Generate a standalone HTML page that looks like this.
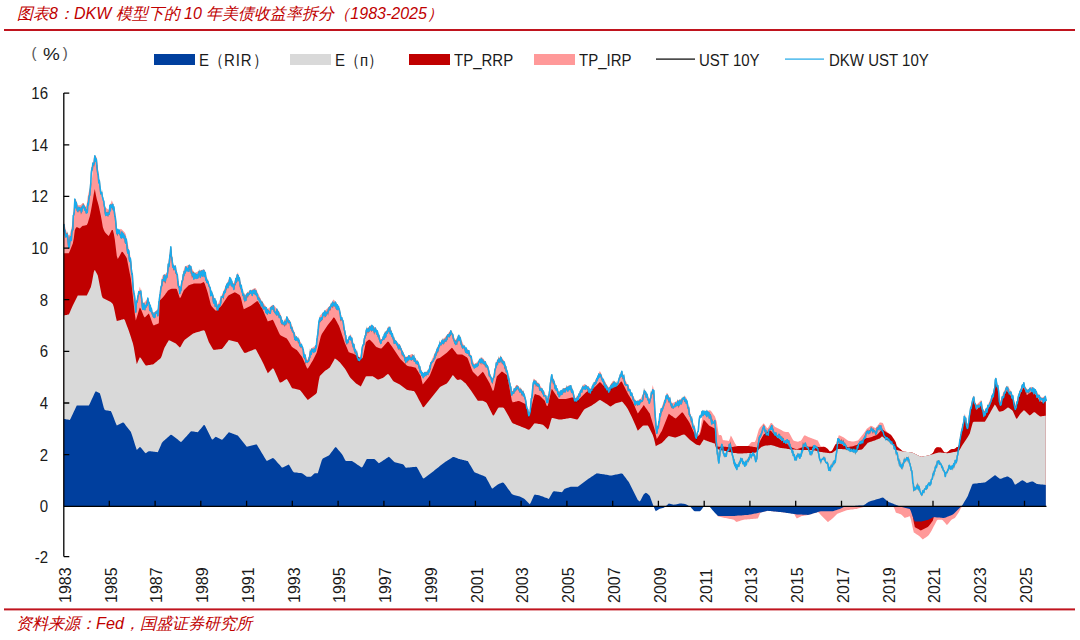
<!DOCTYPE html>
<html><head><meta charset="utf-8">
<style>
html,body{margin:0;padding:0;background:#fff;}
body{width:1080px;height:640px;position:relative;overflow:hidden;font-family:"Liberation Sans",sans-serif;color:#1a1a1a;}
.t{position:absolute;white-space:nowrap;}
.title{left:17px;top:3.5px;font-size:16px;font-style:italic;color:#C00000;}
.foot{left:16px;top:612.5px;font-size:16.2px;font-style:italic;color:#C00000;}
.lg{font-size:15px;top:49.5px;transform:scaleY(1.15);transform-origin:0 0;}
.yl{font-size:15px;width:30px;text-align:right;transform:scaleY(1.12);transform-origin:0 8.9px;}
.xl{font-size:16px;transform-origin:0 0;transform:rotate(-90deg) scaleY(1.05);}
</style></head><body>
<div class="t title">图表8：DKW 模型下的 10 年美债收益率拆分（1983-2025）</div>
<svg width="1080" height="640" style="position:absolute;left:0;top:0">
<rect x="4" y="29" width="1071" height="2" fill="#C0141E"/>
<rect x="4" y="608.4" width="1071" height="2" fill="#C0141E"/>
<!-- legend swatches -->
<rect x="154" y="54" width="41" height="11" fill="#003F9E"/>
<rect x="290" y="54" width="41" height="11" fill="#D9D9D9"/>
<rect x="409" y="54" width="41" height="11" fill="#C00000"/>
<rect x="534" y="54" width="41" height="11" fill="#FF9999"/>
<rect x="656" y="58.5" width="39" height="1.2" fill="#000"/>
<rect x="785" y="58.5" width="39" height="1.2" fill="#1EA8E8"/>
<g id="chart">
<path d="M63.8,506.3 L63.8,221.6 L64.8,225.5 L65.8,229.4 L66.8,232.8 L67.8,234.1 L68.8,235.4 L69.8,234.6 L70.8,230.6 L71.8,226.6 L72.8,219.0 L73.8,208.9 L74.8,198.9 L75.8,199.3 L76.8,202.3 L77.8,205.3 L78.8,205.3 L79.8,205.3 L80.8,205.1 L81.8,204.1 L82.8,203.1 L83.8,203.3 L84.8,205.3 L85.8,207.3 L86.8,203.7 L87.8,196.3 L88.8,191.7 L89.8,188.2 L90.8,184.7 L91.8,181.2 L92.8,169.1 L93.8,158.3 L94.8,155.2 L95.8,156.4 L96.8,157.5 L97.8,166.4 L98.8,176.6 L99.8,184.7 L100.8,192.7 L101.8,197.7 L102.8,200.7 L103.8,203.6 L104.8,206.6 L105.8,207.8 L106.8,208.6 L107.8,209.3 L108.8,209.7 L109.8,206.6 L110.8,203.4 L111.8,200.3 L112.8,202.7 L113.8,206.4 L114.8,210.1 L115.8,217.3 L116.8,228.2 L117.8,231.9 L118.8,230.9 L119.8,229.8 L120.8,228.8 L121.8,229.6 L122.8,230.6 L123.8,231.6 L124.8,232.6 L125.8,234.4 L126.8,239.2 L127.8,244.0 L128.8,248.9 L129.8,253.7 L130.8,258.5 L131.8,267.3 L132.8,277.6 L133.8,288.0 L134.8,298.4 L135.8,305.7 L136.8,300.9 L137.8,296.1 L138.8,291.4 L139.8,286.6 L140.8,290.2 L141.8,295.9 L142.8,301.6 L143.8,303.7 L144.8,302.2 L145.8,300.7 L146.8,299.3 L147.8,297.8 L148.8,300.6 L149.8,303.4 L150.8,306.3 L151.8,309.1 L152.8,311.9 L153.8,312.8 L154.8,311.8 L155.8,310.9 L156.8,309.9 L157.8,308.9 L158.8,301.3 L159.8,293.8 L160.8,286.2 L161.8,278.6 L162.8,275.3 L163.8,274.8 L164.8,274.3 L165.8,273.8 L166.8,272.6 L167.8,266.1 L168.8,259.5 L169.8,252.9 L170.8,246.4 L171.8,251.5 L172.8,261.6 L173.8,266.2 L174.8,265.2 L175.8,265.5 L176.8,271.1 L177.8,276.7 L178.8,282.2 L179.8,287.8 L180.8,284.9 L181.8,279.8 L182.8,274.8 L183.8,269.7 L184.8,266.5 L185.8,266.1 L186.8,265.7 L187.8,265.3 L188.8,264.9 L189.8,264.5 L190.8,266.0 L191.8,268.0 L192.8,270.1 L193.8,272.1 L194.8,273.1 L195.8,272.6 L196.8,272.1 L197.8,271.6 L198.8,271.1 L199.8,270.7 L200.8,270.3 L201.8,269.9 L202.8,269.5 L203.8,269.1 L204.8,270.3 L205.8,273.7 L206.8,277.2 L207.8,280.6 L208.8,284.1 L209.8,286.7 L210.8,289.2 L211.8,291.8 L212.8,294.3 L213.8,296.6 L214.8,298.5 L215.8,300.5 L216.8,302.4 L217.8,304.4 L218.8,302.1 L219.8,299.7 L220.8,297.4 L221.8,295.0 L222.8,292.7 L223.8,290.3 L224.8,288.0 L225.8,285.8 L226.8,283.7 L227.8,281.5 L228.8,279.3 L229.8,277.1 L230.8,278.6 L231.8,280.9 L232.8,283.2 L233.8,283.0 L234.8,280.3 L235.8,277.6 L236.8,274.9 L237.8,272.2 L238.8,275.7 L239.8,279.3 L240.8,282.8 L241.8,286.4 L242.8,289.9 L243.8,293.5 L244.8,295.2 L245.8,294.2 L246.8,293.2 L247.8,292.2 L248.8,291.2 L249.8,290.7 L250.8,290.2 L251.8,289.7 L252.8,289.2 L253.8,288.7 L254.8,288.2 L255.8,288.2 L256.8,290.5 L257.8,292.7 L258.8,294.9 L259.8,297.1 L260.8,299.3 L261.8,300.9 L262.8,302.3 L263.8,303.6 L264.8,304.9 L265.8,306.2 L266.8,307.6 L267.8,308.9 L268.8,308.1 L269.8,307.3 L270.8,306.4 L271.8,305.6 L272.8,304.8 L273.8,305.0 L274.8,306.2 L275.8,307.5 L276.8,308.7 L277.8,309.9 L278.8,311.1 L279.8,312.4 L280.8,315.0 L281.8,318.1 L282.8,321.2 L283.8,322.2 L284.8,320.2 L285.8,318.3 L286.8,316.3 L287.8,317.5 L288.8,319.0 L289.8,320.4 L290.8,322.5 L291.8,325.2 L292.8,327.8 L293.8,330.5 L294.8,333.1 L295.8,335.4 L296.8,336.8 L297.8,338.1 L298.8,339.5 L299.8,340.8 L300.8,342.4 L301.8,345.2 L302.8,347.9 L303.8,350.7 L304.8,353.4 L305.8,356.1 L306.8,358.9 L307.8,359.7 L308.8,356.2 L309.8,352.6 L310.8,349.1 L311.8,348.1 L312.8,347.5 L313.8,346.8 L314.8,346.1 L315.8,345.5 L316.8,339.3 L317.8,330.7 L318.8,322.1 L319.8,315.8 L320.8,314.8 L321.8,313.8 L322.8,312.8 L323.8,311.8 L324.8,310.8 L325.8,309.8 L326.8,308.8 L327.8,307.8 L328.8,306.8 L329.8,305.8 L330.8,304.8 L331.8,303.2 L332.8,300.3 L333.8,299.6 L334.8,300.9 L335.8,302.3 L336.8,303.6 L337.8,305.0 L338.8,307.1 L339.8,310.4 L340.8,313.7 L341.8,317.0 L342.8,320.4 L343.8,324.1 L344.8,329.7 L345.8,335.2 L346.8,340.8 L347.8,339.9 L348.8,337.3 L349.8,334.8 L350.8,334.5 L351.8,337.4 L352.8,340.4 L353.8,343.4 L354.8,346.3 L355.8,349.2 L356.8,351.6 L357.8,354.0 L358.8,356.4 L359.8,357.7 L360.8,354.6 L361.8,349.8 L362.8,344.9 L363.8,340.0 L364.8,335.2 L365.8,330.3 L366.8,328.9 L367.8,327.9 L368.8,327.0 L369.8,326.0 L370.8,325.0 L371.8,325.2 L372.8,325.8 L373.8,326.5 L374.8,327.2 L375.8,327.8 L376.8,329.5 L377.8,331.8 L378.8,334.1 L379.8,336.4 L380.8,338.7 L381.8,339.3 L382.8,337.3 L383.8,335.3 L384.8,333.3 L385.8,331.5 L386.8,329.7 L387.8,327.9 L388.8,326.0 L389.8,327.2 L390.8,329.6 L391.8,332.1 L392.8,334.5 L393.8,336.9 L394.8,339.4 L395.8,340.8 L396.8,341.8 L397.8,342.8 L398.8,343.8 L399.8,344.8 L400.8,346.5 L401.8,348.8 L402.8,351.2 L403.8,353.5 L404.8,355.9 L405.8,357.1 L406.8,356.6 L407.8,356.1 L408.8,355.6 L409.8,355.1 L410.8,354.6 L411.8,354.1 L412.8,354.6 L413.8,355.9 L414.8,357.2 L415.8,358.5 L416.8,359.9 L417.8,361.5 L418.8,363.9 L419.8,366.2 L420.8,368.6 L421.8,370.9 L422.8,372.7 L423.8,372.4 L424.8,372.1 L425.8,371.8 L426.8,371.4 L427.8,371.1 L428.8,368.1 L429.8,365.0 L430.8,362.0 L431.8,359.5 L432.8,357.4 L433.8,355.3 L434.8,353.2 L435.8,351.1 L436.8,349.0 L437.8,346.9 L438.8,344.8 L439.8,342.7 L440.8,341.5 L441.8,340.5 L442.8,339.6 L443.8,338.6 L444.8,337.6 L445.8,336.4 L446.8,335.1 L447.8,333.9 L448.8,332.6 L449.8,331.3 L450.8,330.0 L451.8,331.0 L452.8,333.6 L453.8,336.2 L454.8,338.8 L455.8,340.1 L456.8,338.3 L457.8,336.5 L458.8,334.8 L459.8,336.5 L460.8,338.7 L461.8,340.8 L462.8,343.0 L463.8,345.2 L464.8,346.5 L465.8,347.5 L466.8,348.5 L467.8,349.5 L468.8,350.5 L469.8,352.5 L470.8,355.1 L471.8,357.8 L472.8,360.5 L473.8,363.1 L474.8,364.3 L475.8,363.3 L476.8,362.3 L477.8,361.3 L478.8,360.2 L479.8,359.2 L480.8,358.2 L481.8,357.2 L482.8,357.9 L483.8,359.3 L484.8,360.7 L485.8,362.1 L486.8,364.1 L487.8,367.0 L488.8,369.8 L489.8,372.7 L490.8,375.5 L491.8,378.4 L492.8,378.3 L493.8,373.7 L494.8,369.1 L495.8,364.5 L496.8,360.3 L497.8,359.3 L498.8,358.3 L499.8,357.3 L500.8,356.3 L501.8,357.4 L502.8,359.0 L503.8,360.6 L504.8,362.2 L505.8,365.1 L506.8,369.3 L507.8,373.6 L508.8,377.8 L509.8,382.0 L510.8,386.3 L511.8,390.5 L512.8,391.1 L513.8,389.3 L514.8,387.5 L515.8,385.7 L516.8,384.7 L517.8,385.7 L518.8,386.7 L519.8,387.7 L520.8,388.8 L521.8,389.8 L522.8,390.8 L523.8,391.8 L524.8,395.0 L525.8,399.7 L526.8,404.4 L527.8,409.1 L528.8,413.8 L529.8,411.8 L530.8,403.0 L531.8,394.2 L532.8,385.4 L533.8,378.6 L534.8,379.6 L535.8,380.6 L536.8,381.6 L537.8,382.6 L538.8,383.6 L539.8,385.0 L540.8,386.5 L541.8,387.9 L542.8,389.3 L543.8,390.8 L544.8,392.2 L545.8,395.5 L546.8,398.8 L547.8,398.3 L548.8,392.1 L549.8,385.9 L550.8,379.7 L551.8,374.4 L552.8,377.0 L553.8,379.6 L554.8,382.2 L555.8,384.9 L556.8,387.5 L557.8,390.1 L558.8,392.1 L559.8,391.4 L560.8,390.7 L561.8,390.0 L562.8,389.3 L563.8,388.6 L564.8,388.0 L565.8,387.4 L566.8,386.8 L567.8,386.1 L568.8,385.5 L569.8,384.9 L570.8,385.0 L571.8,387.8 L572.8,390.7 L573.8,393.6 L574.8,396.4 L575.8,398.8 L576.8,397.0 L577.8,395.2 L578.8,393.4 L579.8,391.7 L580.8,389.9 L581.8,388.1 L582.8,386.3 L583.8,384.5 L584.8,384.0 L585.8,384.7 L586.8,385.4 L587.8,386.2 L588.8,386.9 L589.8,387.7 L590.8,388.4 L591.8,387.5 L592.8,385.4 L593.8,383.4 L594.8,381.3 L595.8,379.2 L596.8,377.2 L597.8,375.1 L598.8,373.1 L599.8,371.0 L600.8,372.6 L601.8,375.2 L602.8,377.7 L603.8,379.9 L604.8,381.5 L605.8,383.2 L606.8,384.8 L607.8,386.5 L608.8,387.5 L609.8,385.9 L610.8,384.3 L611.8,382.7 L612.8,381.1 L613.8,381.6 L614.8,382.4 L615.8,383.3 L616.8,384.1 L617.8,382.4 L618.8,379.0 L619.8,375.6 L620.8,372.2 L621.8,370.6 L622.8,373.2 L623.8,375.7 L624.8,378.3 L625.8,380.9 L626.8,382.9 L627.8,384.9 L628.8,387.0 L629.8,389.0 L630.8,391.0 L631.8,393.0 L632.8,395.0 L633.8,396.9 L634.8,398.9 L635.8,400.9 L636.8,401.0 L637.8,400.4 L638.8,399.7 L639.8,399.0 L640.8,398.4 L641.8,396.6 L642.8,394.2 L643.8,391.7 L644.8,389.7 L645.8,391.7 L646.8,393.7 L647.8,395.8 L648.8,397.8 L649.8,399.8 L650.8,394.9 L651.8,390.0 L652.8,385.1 L653.8,389.9 L654.8,404.6 L655.8,419.3 L656.8,431.9 L657.8,425.8 L658.8,419.8 L659.8,413.7 L660.8,409.9 L661.8,407.0 L662.8,404.2 L663.8,401.3 L664.8,398.4 L665.8,395.5 L666.8,392.7 L667.8,393.8 L668.8,396.0 L669.8,398.1 L670.8,400.3 L671.8,402.4 L672.8,403.0 L673.8,402.5 L674.8,402.0 L675.8,401.4 L676.8,400.9 L677.8,400.4 L678.8,399.9 L679.8,399.4 L680.8,398.9 L681.8,398.4 L682.8,397.9 L683.8,397.4 L684.8,396.9 L685.8,396.4 L686.8,399.8 L687.8,403.5 L688.8,407.2 L689.8,411.0 L690.8,414.7 L691.8,418.5 L692.8,422.2 L693.8,425.4 L694.8,428.6 L695.8,431.8 L696.8,434.9 L697.8,434.9 L698.8,433.4 L699.8,431.9 L700.8,426.2 L701.8,419.5 L702.8,412.8 L703.8,412.4 L704.8,412.1 L705.8,411.7 L706.8,411.3 L707.8,410.9 L708.8,410.6 L709.8,410.2 L710.8,410.7 L711.8,412.1 L712.8,413.5 L713.8,414.9 L714.8,416.3 L715.8,419.0 L716.8,421.9 L717.8,428.7 L718.8,435.3 L719.8,435.1 L720.8,434.9 L721.8,436.0 L722.8,440.0 L723.8,440.2 L724.8,440.3 L725.8,440.4 L726.8,440.6 L727.8,440.7 L728.8,440.9 L729.8,438.7 L730.8,435.6 L731.8,437.1 L732.8,439.0 L733.8,441.0 L734.8,443.0 L735.8,444.6 L736.8,446.2 L737.8,446.1 L738.8,446.1 L739.8,446.1 L740.8,446.1 L741.8,446.1 L742.8,446.1 L743.8,446.1 L744.8,446.1 L745.8,446.1 L746.8,446.1 L747.8,446.1 L748.8,445.3 L749.8,444.1 L750.8,442.8 L751.8,441.9 L752.8,441.9 L753.8,441.9 L754.8,441.9 L755.8,440.1 L756.8,436.5 L757.8,433.0 L758.8,429.4 L759.8,427.7 L760.8,426.6 L761.8,425.4 L762.8,424.2 L763.8,423.2 L764.8,424.7 L765.8,426.2 L766.8,427.7 L767.8,428.2 L768.8,426.4 L769.8,424.7 L770.8,422.9 L771.8,422.9 L772.8,424.2 L773.8,425.4 L774.8,426.7 L775.8,427.3 L776.8,427.8 L777.8,428.3 L778.8,428.8 L779.8,429.3 L780.8,429.8 L781.8,430.3 L782.8,430.9 L783.8,431.4 L784.8,431.7 L785.8,431.9 L786.8,432.0 L787.8,432.1 L788.8,432.2 L789.8,433.9 L790.8,435.8 L791.8,437.7 L792.8,439.6 L793.8,440.7 L794.8,441.0 L795.8,441.2 L796.8,441.5 L797.8,441.7 L798.8,441.4 L799.8,441.0 L800.8,440.7 L801.8,439.4 L802.8,437.7 L803.8,436.0 L804.8,435.2 L805.8,435.7 L806.8,436.2 L807.8,436.7 L808.8,437.2 L809.8,437.5 L810.8,437.9 L811.8,438.3 L812.8,438.7 L813.8,439.1 L814.8,439.5 L815.8,439.8 L816.8,440.2 L817.8,440.6 L818.8,442.6 L819.8,444.6 L820.8,446.5 L821.8,446.6 L822.8,446.6 L823.8,446.7 L824.8,447.0 L825.8,447.6 L826.8,448.3 L827.8,448.9 L828.8,450.2 L829.8,451.4 L830.8,451.3 L831.8,450.8 L832.8,449.4 L833.8,447.4 L834.8,445.5 L835.8,443.9 L836.8,441.4 L837.8,438.3 L838.8,435.3 L839.8,435.4 L840.8,435.9 L841.8,436.4 L842.8,436.9 L843.8,437.6 L844.8,438.3 L845.8,439.1 L846.8,439.8 L847.8,440.6 L848.8,440.9 L849.8,441.1 L850.8,441.3 L851.8,441.6 L852.8,441.6 L853.8,441.4 L854.8,441.2 L855.8,441.0 L856.8,440.8 L857.8,440.6 L858.8,439.4 L859.8,438.2 L860.8,436.9 L861.8,435.7 L862.8,434.5 L863.8,433.2 L864.8,431.7 L865.8,430.2 L866.8,428.8 L867.8,428.1 L868.8,427.3 L869.8,426.6 L870.8,425.8 L871.8,426.0 L872.8,426.6 L873.8,427.2 L874.8,427.8 L875.8,428.0 L876.8,426.6 L877.8,425.3 L878.8,423.9 L879.8,422.5 L880.8,422.5 L881.8,422.8 L882.8,423.1 L883.8,424.9 L884.8,428.1 L885.8,430.8 L886.8,431.6 L887.8,432.4 L888.8,433.2 L889.8,434.0 L890.8,434.8 L891.8,436.0 L892.8,437.5 L893.8,439.0 L894.8,440.5 L895.8,442.5 L896.8,446.2 L897.8,447.0 L898.8,447.9 L899.8,448.8 L900.8,449.6 L901.8,450.5 L902.8,451.3 L903.8,451.6 L904.8,451.7 L905.8,451.8 L906.8,451.9 L907.8,452.0 L908.8,452.1 L909.8,452.2 L910.8,452.3 L911.8,452.4 L912.8,452.8 L913.8,453.3 L914.8,453.8 L915.8,454.3 L916.8,454.8 L917.8,455.3 L918.8,455.8 L919.8,456.3 L920.8,456.8 L921.8,456.7 L922.8,456.5 L923.8,456.3 L924.8,456.1 L925.8,455.9 L926.8,455.7 L927.8,455.5 L928.8,455.3 L929.8,455.1 L930.8,454.4 L931.8,453.7 L932.8,452.9 L933.8,451.6 L934.8,449.0 L935.8,448.0 L936.8,447.3 L937.8,447.2 L938.8,447.3 L939.8,447.4 L940.8,447.5 L941.8,448.7 L942.8,450.3 L943.8,451.8 L944.8,452.4 L945.8,452.4 L946.8,452.4 L947.8,451.7 L948.8,450.9 L949.8,450.1 L950.8,449.4 L951.8,448.9 L952.8,449.0 L953.8,449.1 L954.8,448.8 L955.8,447.9 L956.8,447.1 L957.8,446.9 L958.8,444.7 L959.8,438.5 L960.8,432.2 L961.8,428.1 L962.8,424.0 L963.8,418.7 L964.8,413.5 L965.8,418.2 L966.8,422.8 L967.8,424.2 L968.8,417.9 L969.8,411.6 L970.8,405.3 L971.8,401.3 L972.8,397.2 L973.8,395.6 L974.8,399.5 L975.8,403.4 L976.8,404.7 L977.8,403.6 L978.8,402.5 L979.8,401.4 L980.8,400.2 L981.8,402.5 L982.8,407.0 L983.8,411.5 L984.8,410.4 L985.8,408.7 L986.8,407.1 L987.8,405.1 L988.8,402.8 L989.8,400.6 L990.8,398.4 L991.8,396.0 L992.8,393.0 L993.8,390.0 L994.8,381.9 L995.8,377.3 L996.8,381.0 L997.8,384.7 L998.8,392.4 L999.8,400.2 L1000.8,400.2 L1001.8,397.0 L1002.8,393.7 L1003.8,391.5 L1004.8,389.5 L1005.8,387.4 L1006.8,385.7 L1007.8,386.9 L1008.8,388.0 L1009.8,389.2 L1010.8,391.0 L1011.8,393.0 L1012.8,395.0 L1013.8,399.0 L1014.8,403.0 L1015.8,405.4 L1016.8,401.5 L1017.8,397.5 L1018.8,393.6 L1019.8,390.3 L1020.8,388.1 L1021.8,385.9 L1022.8,383.7 L1023.8,382.4 L1024.8,385.0 L1025.8,387.5 L1026.8,390.0 L1027.8,389.6 L1028.8,388.8 L1029.8,388.0 L1030.8,387.2 L1031.8,386.8 L1032.8,387.6 L1033.8,388.3 L1034.8,389.0 L1035.8,390.2 L1036.8,391.7 L1037.8,393.2 L1038.8,394.7 L1039.8,395.8 L1040.8,396.8 L1041.8,397.8 L1042.8,397.3 L1043.8,396.8 L1044.8,396.3 L1045.8,395.9 L1045.8,506.3 Z" fill="#FF9999"/>
<path d="M63.8,506.3 L63.8,253.3 L64.8,253.3 L65.8,253.3 L66.8,253.3 L67.8,253.3 L68.8,253.3 L69.8,251.0 L70.8,248.5 L71.8,246.0 L72.8,243.5 L73.8,238.2 L74.8,230.3 L75.8,227.9 L76.8,227.0 L77.8,227.5 L78.8,228.1 L79.8,228.6 L80.8,227.6 L81.8,226.6 L82.8,225.8 L83.8,225.7 L84.8,225.5 L85.8,225.3 L86.8,225.1 L87.8,223.0 L88.8,219.6 L89.8,216.3 L90.8,211.4 L91.8,206.1 L92.8,200.3 L93.8,194.0 L94.8,188.9 L95.8,194.4 L96.8,199.3 L97.8,202.5 L98.8,206.3 L99.8,210.9 L100.8,215.6 L101.8,221.0 L102.8,226.9 L103.8,230.1 L104.8,232.1 L105.8,233.3 L106.8,234.3 L107.8,235.3 L108.8,236.0 L109.8,234.0 L110.8,232.1 L111.8,230.1 L112.8,229.9 L113.8,233.8 L114.8,239.5 L115.8,247.7 L116.8,255.9 L117.8,259.1 L118.8,257.3 L119.8,255.5 L120.8,253.6 L121.8,251.8 L122.8,252.0 L123.8,253.5 L124.8,255.0 L125.8,256.5 L126.8,258.3 L127.8,263.3 L128.8,268.4 L129.8,273.4 L130.8,278.5 L131.8,286.4 L132.8,295.5 L133.8,304.7 L134.8,313.8 L135.8,320.4 L136.8,317.2 L137.8,313.9 L138.8,310.6 L139.8,307.4 L140.8,308.7 L141.8,311.2 L142.8,313.8 L143.8,316.3 L144.8,317.4 L145.8,316.4 L146.8,315.4 L147.8,314.4 L148.8,313.4 L149.8,315.8 L150.8,318.6 L151.8,321.4 L152.8,324.2 L153.8,325.4 L154.8,325.0 L155.8,324.6 L156.8,324.2 L157.8,323.8 L158.8,323.3 L159.8,300.5 L160.8,299.5 L161.8,298.5 L162.8,297.5 L163.8,296.2 L164.8,294.9 L165.8,293.5 L166.8,292.2 L167.8,290.8 L168.8,290.0 L169.8,289.5 L170.8,289.0 L171.8,288.7 L172.8,288.7 L173.8,288.7 L174.8,288.7 L175.8,288.7 L176.8,289.0 L177.8,292.0 L178.8,295.1 L179.8,298.1 L180.8,297.3 L181.8,294.8 L182.8,292.4 L183.8,290.2 L184.8,289.2 L185.8,288.2 L186.8,287.2 L187.8,286.2 L188.8,285.3 L189.8,284.9 L190.8,284.6 L191.8,284.3 L192.8,284.0 L193.8,283.6 L194.8,283.6 L195.8,283.6 L196.8,283.6 L197.8,283.6 L198.8,283.6 L199.8,283.6 L200.8,283.6 L201.8,283.1 L202.8,282.6 L203.8,282.1 L204.8,283.7 L205.8,286.7 L206.8,289.8 L207.8,293.0 L208.8,296.9 L209.8,300.8 L210.8,304.7 L211.8,306.6 L212.8,307.6 L213.8,308.7 L214.8,309.7 L215.8,310.7 L216.8,310.5 L217.8,309.5 L218.8,308.5 L219.8,307.5 L220.8,306.5 L221.8,305.3 L222.8,303.8 L223.8,302.3 L224.8,300.8 L225.8,299.2 L226.8,297.7 L227.8,296.2 L228.8,295.3 L229.8,294.8 L230.8,294.3 L231.8,293.8 L232.8,293.3 L233.8,292.8 L234.8,292.3 L235.8,292.7 L236.8,293.3 L237.8,294.0 L238.8,294.6 L239.8,295.3 L240.8,297.6 L241.8,301.6 L242.8,305.7 L243.8,309.3 L244.8,308.8 L245.8,308.3 L246.8,307.8 L247.8,307.3 L248.8,306.8 L249.8,306.3 L250.8,305.8 L251.8,305.0 L252.8,304.3 L253.8,303.5 L254.8,302.8 L255.8,302.1 L256.8,301.3 L257.8,301.3 L258.8,303.0 L259.8,304.6 L260.8,306.3 L261.8,308.0 L262.8,309.8 L263.8,312.1 L264.8,314.4 L265.8,316.7 L266.8,319.1 L267.8,321.4 L268.8,321.1 L269.8,320.7 L270.8,320.4 L271.8,320.1 L272.8,319.7 L273.8,321.6 L274.8,323.8 L275.8,325.9 L276.8,328.1 L277.8,330.3 L278.8,332.4 L279.8,334.6 L280.8,335.4 L281.8,335.9 L282.8,336.4 L283.8,336.9 L284.8,337.4 L285.8,337.9 L286.8,338.4 L287.8,339.9 L288.8,341.6 L289.8,343.3 L290.8,345.0 L291.8,346.7 L292.8,347.5 L293.8,348.2 L294.8,348.8 L295.8,349.5 L296.8,350.1 L297.8,351.2 L298.8,352.6 L299.8,353.9 L300.8,355.3 L301.8,356.6 L302.8,358.5 L303.8,360.8 L304.8,363.1 L305.8,365.4 L306.8,367.7 L307.8,368.8 L308.8,367.1 L309.8,365.5 L310.8,363.8 L311.8,362.1 L312.8,360.4 L313.8,358.4 L314.8,356.4 L315.8,354.4 L316.8,352.4 L317.8,348.6 L318.8,344.6 L319.8,340.6 L320.8,336.6 L321.8,334.1 L322.8,332.6 L323.8,331.1 L324.8,329.6 L325.8,328.1 L326.8,326.6 L327.8,325.1 L328.8,323.8 L329.8,322.5 L330.8,321.2 L331.8,319.9 L332.8,318.6 L333.8,317.3 L334.8,318.2 L335.8,320.0 L336.8,321.8 L337.8,323.7 L338.8,325.5 L339.8,327.9 L340.8,331.0 L341.8,334.0 L342.8,337.0 L343.8,340.1 L344.8,342.9 L345.8,345.3 L346.8,347.6 L347.8,350.0 L348.8,352.2 L349.8,352.6 L350.8,352.9 L351.8,353.2 L352.8,353.5 L353.8,353.9 L354.8,354.5 L355.8,355.2 L356.8,355.8 L357.8,356.5 L358.8,357.2 L359.8,357.7 L360.8,358.2 L361.8,358.7 L362.8,357.5 L363.8,352.5 L364.8,347.4 L365.8,342.4 L366.8,341.2 L367.8,340.4 L368.8,339.7 L369.8,339.8 L370.8,340.8 L371.8,341.8 L372.8,342.8 L373.8,343.9 L374.8,345.2 L375.8,346.5 L376.8,347.2 L377.8,347.5 L378.8,347.9 L379.8,348.2 L380.8,348.5 L381.8,348.2 L382.8,347.1 L383.8,346.0 L384.8,344.8 L385.8,343.7 L386.8,342.6 L387.8,341.5 L388.8,341.9 L389.8,343.4 L390.8,344.9 L391.8,346.3 L392.8,347.8 L393.8,349.3 L394.8,350.8 L395.8,352.3 L396.8,353.8 L397.8,355.3 L398.8,356.8 L399.8,358.3 L400.8,359.5 L401.8,360.5 L402.8,361.5 L403.8,362.6 L404.8,363.6 L405.8,364.6 L406.8,365.6 L407.8,366.0 L408.8,366.2 L409.8,366.4 L410.8,366.6 L411.8,366.8 L412.8,367.0 L413.8,367.2 L414.8,367.4 L415.8,367.8 L416.8,369.4 L417.8,371.1 L418.8,372.7 L419.8,374.4 L420.8,376.0 L421.8,380.8 L422.8,384.6 L423.8,383.3 L424.8,382.1 L425.8,380.8 L426.8,379.6 L427.8,378.3 L428.8,377.1 L429.8,375.5 L430.8,373.0 L431.8,370.5 L432.8,368.0 L433.8,365.5 L434.8,363.0 L435.8,360.5 L436.8,358.9 L437.8,358.5 L438.8,358.2 L439.8,357.9 L440.8,357.2 L441.8,356.4 L442.8,355.7 L443.8,354.9 L444.8,354.2 L445.8,353.4 L446.8,352.7 L447.8,351.7 L448.8,350.7 L449.8,349.7 L450.8,348.7 L451.8,347.7 L452.8,348.6 L453.8,349.9 L454.8,351.2 L455.8,352.5 L456.8,353.9 L457.8,354.4 L458.8,354.4 L459.8,354.4 L460.8,354.4 L461.8,354.4 L462.8,354.7 L463.8,355.4 L464.8,356.0 L465.8,356.7 L466.8,357.3 L467.8,358.6 L468.8,361.3 L469.8,364.0 L470.8,366.7 L471.8,369.4 L472.8,371.7 L473.8,372.7 L474.8,373.7 L475.8,374.7 L476.8,375.7 L477.8,376.7 L478.8,375.7 L479.8,374.7 L480.8,373.7 L481.8,372.7 L482.8,371.7 L483.8,372.9 L484.8,374.7 L485.8,376.5 L486.8,378.3 L487.8,380.0 L488.8,381.8 L489.8,383.6 L490.8,386.1 L491.8,388.5 L492.8,391.0 L493.8,389.9 L494.8,385.4 L495.8,380.8 L496.8,376.6 L497.8,375.6 L498.8,374.6 L499.8,373.6 L500.8,372.6 L501.8,371.6 L502.8,372.1 L503.8,372.8 L504.8,373.5 L505.8,374.2 L506.8,374.9 L507.8,379.2 L508.8,384.5 L509.8,389.8 L510.8,395.1 L511.8,400.4 L512.8,402.4 L513.8,402.1 L514.8,401.9 L515.8,401.6 L516.8,401.4 L517.8,401.1 L518.8,400.9 L519.8,401.2 L520.8,401.7 L521.8,402.2 L522.8,402.7 L523.8,403.2 L524.8,403.7 L525.8,404.2 L526.8,407.4 L527.8,410.9 L528.8,414.4 L529.8,414.1 L530.8,409.8 L531.8,405.5 L532.8,401.2 L533.8,396.9 L534.8,394.0 L535.8,394.3 L536.8,394.7 L537.8,395.0 L538.8,395.3 L539.8,395.7 L540.8,396.7 L541.8,397.7 L542.8,398.8 L543.8,399.8 L544.8,400.8 L545.8,403.4 L546.8,406.0 L547.8,405.8 L548.8,401.4 L549.8,397.1 L550.8,392.7 L551.8,388.8 L552.8,390.3 L553.8,391.8 L554.8,393.3 L555.8,394.8 L556.8,396.3 L557.8,397.8 L558.8,399.0 L559.8,399.0 L560.8,399.0 L561.8,399.0 L562.8,399.0 L563.8,399.0 L564.8,399.0 L565.8,398.9 L566.8,398.7 L567.8,398.4 L568.8,398.2 L569.8,397.9 L570.8,397.7 L571.8,397.4 L572.8,397.6 L573.8,398.3 L574.8,399.0 L575.8,399.7 L576.8,400.3 L577.8,400.5 L578.8,399.5 L579.8,398.5 L580.8,397.5 L581.8,396.4 L582.8,395.4 L583.8,394.4 L584.8,393.4 L585.8,392.4 L586.8,391.8 L587.8,391.3 L588.8,390.8 L589.8,390.3 L590.8,389.8 L591.8,389.3 L592.8,388.8 L593.8,387.8 L594.8,386.9 L595.8,385.9 L596.8,384.9 L597.8,383.9 L598.8,383.0 L599.8,382.0 L600.8,382.7 L601.8,383.8 L602.8,384.9 L603.8,386.0 L604.8,387.2 L605.8,388.3 L606.8,389.4 L607.8,389.2 L608.8,388.9 L609.8,388.5 L610.8,388.2 L611.8,387.9 L612.8,387.5 L613.8,387.2 L614.8,386.9 L615.8,386.6 L616.8,386.2 L617.8,385.4 L618.8,384.2 L619.8,383.0 L620.8,381.7 L621.8,381.5 L622.8,383.5 L623.8,385.5 L624.8,387.6 L625.8,389.6 L626.8,391.6 L627.8,393.5 L628.8,395.2 L629.8,396.8 L630.8,398.5 L631.8,400.2 L632.8,402.0 L633.8,404.3 L634.8,406.6 L635.8,408.9 L636.8,411.3 L637.8,413.6 L638.8,412.2 L639.8,410.7 L640.8,409.3 L641.8,407.9 L642.8,406.4 L643.8,405.0 L644.8,406.4 L645.8,407.9 L646.8,409.3 L647.8,410.7 L648.8,412.2 L649.8,413.6 L650.8,416.9 L651.8,420.2 L652.8,423.5 L653.8,426.8 L654.8,430.1 L655.8,434.8 L656.8,439.1 L657.8,437.5 L658.8,435.9 L659.8,434.2 L660.8,432.6 L661.8,431.0 L662.8,428.5 L663.8,426.0 L664.8,423.5 L665.8,420.9 L666.8,418.4 L667.8,415.9 L668.8,413.7 L669.8,414.4 L670.8,415.2 L671.8,415.9 L672.8,416.6 L673.8,417.4 L674.8,418.1 L675.8,418.5 L676.8,417.5 L677.8,416.5 L678.8,415.5 L679.8,414.6 L680.8,413.6 L681.8,412.6 L682.8,412.4 L683.8,413.9 L684.8,415.4 L685.8,416.9 L686.8,418.4 L687.8,419.9 L688.8,421.4 L689.8,423.3 L690.8,425.5 L691.8,427.8 L692.8,430.0 L693.8,432.2 L694.8,434.5 L695.8,436.7 L696.8,437.1 L697.8,436.3 L698.8,435.4 L699.8,434.6 L700.8,431.2 L701.8,427.1 L702.8,423.0 L703.8,419.5 L704.8,420.7 L705.8,421.8 L706.8,422.9 L707.8,424.1 L708.8,425.2 L709.8,426.1 L710.8,426.6 L711.8,427.1 L712.8,427.6 L713.8,428.1 L714.8,428.6 L715.8,444.6 L716.8,446.6 L717.8,446.6 L718.8,446.7 L719.8,446.7 L720.8,446.7 L721.8,446.7 L722.8,446.8 L723.8,446.8 L724.8,446.8 L725.8,446.8 L726.8,446.9 L727.8,446.9 L728.8,446.9 L729.8,446.9 L730.8,447.0 L731.8,447.0 L732.8,446.9 L733.8,446.7 L734.8,446.5 L735.8,446.4 L736.8,446.2 L737.8,446.1 L738.8,446.1 L739.8,446.1 L740.8,446.1 L741.8,446.1 L742.8,446.1 L743.8,446.1 L744.8,446.1 L745.8,446.1 L746.8,446.1 L747.8,446.1 L748.8,446.1 L749.8,446.3 L750.8,446.4 L751.8,446.6 L752.8,446.8 L753.8,446.9 L754.8,447.1 L755.8,447.3 L756.8,447.4 L757.8,446.1 L758.8,443.7 L759.8,441.4 L760.8,439.5 L761.8,437.7 L762.8,436.0 L763.8,434.3 L764.8,433.7 L765.8,433.0 L766.8,432.4 L767.8,431.7 L768.8,431.1 L769.8,430.4 L770.8,430.7 L771.8,431.8 L772.8,432.9 L773.8,434.0 L774.8,435.1 L775.8,436.0 L776.8,436.8 L777.8,437.6 L778.8,438.4 L779.8,439.2 L780.8,439.9 L781.8,440.5 L782.8,441.1 L783.8,441.7 L784.8,442.3 L785.8,443.0 L786.8,443.8 L787.8,444.6 L788.8,445.4 L789.8,446.2 L790.8,447.0 L791.8,447.5 L792.8,447.9 L793.8,448.3 L794.8,448.7 L795.8,449.0 L796.8,449.4 L797.8,449.0 L798.8,448.6 L799.8,448.2 L800.8,447.8 L801.8,447.4 L802.8,447.1 L803.8,447.1 L804.8,447.0 L805.8,446.9 L806.8,446.8 L807.8,446.7 L808.8,446.7 L809.8,446.7 L810.8,446.7 L811.8,446.7 L812.8,446.7 L813.8,446.7 L814.8,446.8 L815.8,446.9 L816.8,447.0 L817.8,447.0 L818.8,447.1 L819.8,447.2 L820.8,447.1 L821.8,447.0 L822.8,446.9 L823.8,446.8 L824.8,447.0 L825.8,447.6 L826.8,448.3 L827.8,448.9 L828.8,450.2 L829.8,451.4 L830.8,451.3 L831.8,450.8 L832.8,449.4 L833.8,447.4 L834.8,445.5 L835.8,443.9 L836.8,443.9 L837.8,443.9 L838.8,443.9 L839.8,443.9 L840.8,443.9 L841.8,444.3 L842.8,444.9 L843.8,445.5 L844.8,446.1 L845.8,446.7 L846.8,447.2 L847.8,447.0 L848.8,446.9 L849.8,446.7 L850.8,446.5 L851.8,446.4 L852.8,446.2 L853.8,445.9 L854.8,445.6 L855.8,445.3 L856.8,445.0 L857.8,444.6 L858.8,444.3 L859.8,444.0 L860.8,443.1 L861.8,442.1 L862.8,441.1 L863.8,440.1 L864.8,439.1 L865.8,438.3 L866.8,438.1 L867.8,437.9 L868.8,437.7 L869.8,437.5 L870.8,437.3 L871.8,436.9 L872.8,436.5 L873.8,436.1 L874.8,435.7 L875.8,435.4 L876.8,434.9 L877.8,433.9 L878.8,432.9 L879.8,431.8 L880.8,430.8 L881.8,429.8 L882.8,429.8 L883.8,430.5 L884.8,431.2 L885.8,431.8 L886.8,432.4 L887.8,433.0 L888.8,433.6 L889.8,434.2 L890.8,434.8 L891.8,436.0 L892.8,437.5 L893.8,439.0 L894.8,440.5 L895.8,442.5 L896.8,446.2 L897.8,447.0 L898.8,447.9 L899.8,448.8 L900.8,449.6 L901.8,450.5 L902.8,451.3 L903.8,451.6 L904.8,451.7 L905.8,451.8 L906.8,451.9 L907.8,452.0 L908.8,452.1 L909.8,452.2 L910.8,452.3 L911.8,452.4 L912.8,452.8 L913.8,453.3 L914.8,453.8 L915.8,454.3 L916.8,454.8 L917.8,455.3 L918.8,455.8 L919.8,456.3 L920.8,456.8 L921.8,456.7 L922.8,456.5 L923.8,456.3 L924.8,456.1 L925.8,455.9 L926.8,455.7 L927.8,455.5 L928.8,455.3 L929.8,455.1 L930.8,454.4 L931.8,453.7 L932.8,452.9 L933.8,451.6 L934.8,449.0 L935.8,448.0 L936.8,447.3 L937.8,447.2 L938.8,447.3 L939.8,447.4 L940.8,447.5 L941.8,448.7 L942.8,450.3 L943.8,451.8 L944.8,452.4 L945.8,452.4 L946.8,452.4 L947.8,451.7 L948.8,450.9 L949.8,450.1 L950.8,449.4 L951.8,448.9 L952.8,449.0 L953.8,449.1 L954.8,448.8 L955.8,447.9 L956.8,447.1 L957.8,446.9 L958.8,446.1 L959.8,441.8 L960.8,437.2 L961.8,433.1 L962.8,429.0 L963.8,423.7 L964.8,418.5 L965.8,423.2 L966.8,427.8 L967.8,429.2 L968.8,422.9 L969.8,416.6 L970.8,410.3 L971.8,406.3 L972.8,402.2 L973.8,400.6 L974.8,404.5 L975.8,408.4 L976.8,409.7 L977.8,408.6 L978.8,407.5 L979.8,406.4 L980.8,405.2 L981.8,407.5 L982.8,412.0 L983.8,416.5 L984.8,415.4 L985.8,413.7 L986.8,412.1 L987.8,410.1 L988.8,407.8 L989.8,405.6 L990.8,403.4 L991.8,401.0 L992.8,398.0 L993.8,395.0 L994.8,386.9 L995.8,382.3 L996.8,386.0 L997.8,389.7 L998.8,397.4 L999.8,404.9 L1000.8,403.7 L1001.8,402.0 L1002.8,398.7 L1003.8,396.5 L1004.8,394.5 L1005.8,392.4 L1006.8,390.7 L1007.8,391.9 L1008.8,393.0 L1009.8,394.2 L1010.8,396.0 L1011.8,398.0 L1012.8,399.8 L1013.8,401.0 L1014.8,404.6 L1015.8,408.3 L1016.8,406.5 L1017.8,402.5 L1018.8,398.6 L1019.8,395.3 L1020.8,393.1 L1021.8,390.9 L1022.8,388.7 L1023.8,387.4 L1024.8,390.0 L1025.8,392.5 L1026.8,395.0 L1027.8,394.6 L1028.8,393.8 L1029.8,393.0 L1030.8,392.2 L1031.8,391.8 L1032.8,392.6 L1033.8,393.3 L1034.8,394.0 L1035.8,395.2 L1036.8,396.7 L1037.8,398.2 L1038.8,399.7 L1039.8,400.7 L1040.8,401.3 L1041.8,401.9 L1042.8,402.3 L1043.8,401.7 L1044.8,401.0 L1045.8,400.2 L1045.8,506.3 Z" fill="#C00000"/>
<path d="M63.8,506.3 L63.8,315.5 L64.8,315.3 L65.8,315.1 L66.8,314.9 L67.8,314.6 L68.8,314.4 L69.8,312.4 L70.8,310.1 L71.8,307.8 L72.8,305.5 L73.8,303.4 L74.8,301.5 L75.8,299.5 L76.8,297.6 L77.8,295.6 L78.8,295.6 L79.8,295.6 L80.8,295.6 L81.8,295.6 L82.8,295.6 L83.8,295.6 L84.8,295.6 L85.8,295.6 L86.8,295.4 L87.8,293.4 L88.8,291.4 L89.8,289.3 L90.8,287.3 L91.8,282.9 L92.8,277.5 L93.8,272.1 L94.8,269.7 L95.8,271.7 L96.8,273.6 L97.8,275.6 L98.8,280.6 L99.8,285.7 L100.8,290.7 L101.8,295.8 L102.8,298.1 L103.8,298.6 L104.8,299.1 L105.8,299.6 L106.8,300.1 L107.8,300.6 L108.8,301.1 L109.8,301.6 L110.8,302.1 L111.8,302.9 L112.8,303.9 L113.8,306.9 L114.8,311.8 L115.8,316.7 L116.8,321.1 L117.8,320.8 L118.8,320.5 L119.8,320.2 L120.8,319.9 L121.8,319.6 L122.8,319.4 L123.8,319.1 L124.8,320.0 L125.8,322.7 L126.8,325.4 L127.8,328.1 L128.8,330.8 L129.8,333.8 L130.8,336.8 L131.8,339.9 L132.8,342.9 L133.8,347.3 L134.8,353.2 L135.8,359.1 L136.8,364.2 L137.8,361.8 L138.8,359.5 L139.8,357.2 L140.8,358.0 L141.8,359.6 L142.8,361.2 L143.8,362.7 L144.8,364.3 L145.8,365.6 L146.8,365.4 L147.8,365.3 L148.8,365.1 L149.8,364.9 L150.8,364.8 L151.8,364.6 L152.8,364.5 L153.8,364.0 L154.8,363.1 L155.8,362.3 L156.8,361.4 L157.8,360.6 L158.8,359.7 L159.8,358.9 L160.8,358.1 L161.8,355.7 L162.8,352.6 L163.8,349.6 L164.8,347.1 L165.8,345.4 L166.8,343.6 L167.8,341.9 L168.8,340.2 L169.8,340.4 L170.8,340.9 L171.8,341.4 L172.8,341.9 L173.8,342.4 L174.8,342.9 L175.8,343.5 L176.8,344.5 L177.8,345.6 L178.8,346.6 L179.8,347.6 L180.8,346.4 L181.8,344.6 L182.8,342.8 L183.8,341.1 L184.8,339.7 L185.8,338.9 L186.8,338.2 L187.8,337.4 L188.8,336.7 L189.8,335.9 L190.8,335.2 L191.8,334.4 L192.8,333.7 L193.8,333.2 L194.8,332.9 L195.8,332.6 L196.8,332.3 L197.8,332.0 L198.8,331.7 L199.8,331.4 L200.8,331.1 L201.8,330.8 L202.8,330.5 L203.8,330.2 L204.8,331.1 L205.8,333.8 L206.8,336.5 L207.8,339.2 L208.8,341.9 L209.8,343.8 L210.8,345.6 L211.8,347.3 L212.8,349.1 L213.8,349.9 L214.8,349.8 L215.8,349.7 L216.8,349.6 L217.8,349.4 L218.8,349.3 L219.8,349.2 L220.8,349.1 L221.8,348.9 L222.8,348.1 L223.8,346.8 L224.8,345.4 L225.8,344.1 L226.8,342.8 L227.8,341.5 L228.8,340.1 L229.8,340.2 L230.8,340.5 L231.8,340.7 L232.8,341.0 L233.8,341.2 L234.8,341.5 L235.8,341.7 L236.8,342.0 L237.8,342.2 L238.8,343.9 L239.8,345.6 L240.8,347.2 L241.8,348.9 L242.8,350.6 L243.8,352.3 L244.8,353.1 L245.8,352.8 L246.8,352.4 L247.8,352.0 L248.8,351.6 L249.8,351.2 L250.8,350.8 L251.8,350.4 L252.8,350.0 L253.8,349.6 L254.8,349.2 L255.8,349.3 L256.8,351.1 L257.8,353.0 L258.8,354.8 L259.8,356.7 L260.8,358.5 L261.8,360.4 L262.8,362.4 L263.8,364.6 L264.8,366.8 L265.8,368.9 L266.8,371.1 L267.8,373.3 L268.8,372.3 L269.8,371.3 L270.8,370.3 L271.8,369.3 L272.8,368.3 L273.8,368.9 L274.8,371.2 L275.8,373.5 L276.8,375.8 L277.8,378.1 L278.8,380.4 L279.8,382.6 L280.8,382.6 L281.8,382.0 L282.8,381.4 L283.8,380.7 L284.8,380.1 L285.8,379.5 L286.8,378.9 L287.8,380.5 L288.8,382.3 L289.8,384.1 L290.8,386.0 L291.8,387.8 L292.8,388.4 L293.8,388.6 L294.8,388.8 L295.8,389.1 L296.8,389.3 L297.8,389.5 L298.8,389.7 L299.8,390.0 L300.8,391.0 L301.8,392.3 L302.8,393.6 L303.8,394.9 L304.8,396.2 L305.8,397.4 L306.8,398.7 L307.8,400.0 L308.8,399.2 L309.8,398.5 L310.8,397.7 L311.8,397.0 L312.8,396.2 L313.8,395.5 L314.8,394.7 L315.8,394.0 L316.8,392.7 L317.8,386.6 L318.8,380.5 L319.8,375.9 L320.8,374.9 L321.8,373.9 L322.8,373.0 L323.8,372.0 L324.8,371.0 L325.8,370.3 L326.8,369.7 L327.8,369.0 L328.8,368.3 L329.8,367.6 L330.8,365.8 L331.8,364.0 L332.8,362.2 L333.8,360.4 L334.8,358.6 L335.8,358.9 L336.8,359.7 L337.8,360.6 L338.8,361.4 L339.8,362.2 L340.8,363.4 L341.8,364.7 L342.8,366.0 L343.8,367.3 L344.8,368.6 L345.8,370.1 L346.8,371.8 L347.8,373.5 L348.8,375.2 L349.8,376.9 L350.8,378.3 L351.8,379.3 L352.8,380.3 L353.8,381.3 L354.8,382.3 L355.8,383.2 L356.8,383.9 L357.8,384.5 L358.8,385.2 L359.8,385.8 L360.8,386.5 L361.8,384.5 L362.8,382.5 L363.8,380.4 L364.8,378.4 L365.8,376.4 L366.8,376.2 L367.8,376.2 L368.8,376.2 L369.8,376.2 L370.8,376.2 L371.8,376.2 L372.8,376.2 L373.8,376.9 L374.8,377.6 L375.8,378.3 L376.8,378.9 L377.8,379.6 L378.8,379.4 L379.8,379.0 L380.8,378.7 L381.8,378.3 L382.8,378.0 L383.8,377.3 L384.8,376.5 L385.8,375.6 L386.8,374.8 L387.8,373.9 L388.8,374.5 L389.8,376.0 L390.8,377.5 L391.8,379.0 L392.8,380.5 L393.8,381.6 L394.8,382.1 L395.8,382.6 L396.8,383.1 L397.8,383.6 L398.8,384.1 L399.8,384.6 L400.8,385.2 L401.8,385.9 L402.8,386.7 L403.8,387.5 L404.8,388.2 L405.8,389.0 L406.8,389.8 L407.8,390.1 L408.8,390.3 L409.8,390.4 L410.8,390.6 L411.8,390.7 L412.8,390.9 L413.8,391.0 L414.8,391.9 L415.8,393.7 L416.8,395.6 L417.8,397.5 L418.8,399.4 L419.8,401.2 L420.8,403.1 L421.8,405.0 L422.8,406.9 L423.8,407.2 L424.8,405.9 L425.8,404.7 L426.8,403.4 L427.8,402.2 L428.8,400.9 L429.8,399.7 L430.8,398.4 L431.8,397.2 L432.8,396.0 L433.8,394.7 L434.8,393.5 L435.8,392.2 L436.8,391.0 L437.8,389.7 L438.8,388.5 L439.8,387.2 L440.8,386.6 L441.8,386.1 L442.8,385.6 L443.8,385.1 L444.8,384.6 L445.8,384.1 L446.8,383.6 L447.8,382.3 L448.8,380.9 L449.8,379.4 L450.8,378.0 L451.8,376.6 L452.8,375.1 L453.8,376.1 L454.8,377.3 L455.8,378.4 L456.8,379.6 L457.8,380.0 L458.8,379.7 L459.8,379.5 L460.8,379.5 L461.8,380.3 L462.8,381.1 L463.8,381.9 L464.8,382.8 L465.8,383.6 L466.8,384.9 L467.8,386.3 L468.8,387.6 L469.8,388.9 L470.8,390.3 L471.8,391.8 L472.8,393.3 L473.8,394.8 L474.8,396.3 L475.8,397.8 L476.8,399.3 L477.8,400.8 L478.8,400.8 L479.8,400.8 L480.8,400.8 L481.8,400.8 L482.8,400.8 L483.8,401.2 L484.8,401.7 L485.8,402.2 L486.8,403.3 L487.8,405.3 L488.8,407.3 L489.8,409.3 L490.8,411.2 L491.8,413.2 L492.8,415.2 L493.8,415.4 L494.8,413.7 L495.8,412.0 L496.8,410.3 L497.8,408.6 L498.8,407.6 L499.8,407.6 L500.8,407.6 L501.8,407.6 L502.8,407.6 L503.8,407.9 L504.8,409.6 L505.8,411.3 L506.8,413.0 L507.8,414.7 L508.8,416.4 L509.8,418.4 L510.8,420.3 L511.8,422.3 L512.8,423.3 L513.8,423.7 L514.8,424.1 L515.8,424.5 L516.8,424.9 L517.8,425.3 L518.8,425.7 L519.8,426.1 L520.8,426.5 L521.8,426.9 L522.8,427.3 L523.8,427.7 L524.8,428.1 L525.8,428.6 L526.8,429.0 L527.8,429.4 L528.8,429.8 L529.8,429.3 L530.8,428.0 L531.8,426.7 L532.8,425.4 L533.8,424.0 L534.8,423.2 L535.8,423.4 L536.8,423.6 L537.8,423.8 L538.8,423.9 L539.8,424.1 L540.8,424.3 L541.8,424.5 L542.8,424.7 L543.8,425.5 L544.8,426.5 L545.8,427.6 L546.8,428.6 L547.8,429.6 L548.8,427.9 L549.8,424.5 L550.8,421.0 L551.8,417.9 L552.8,418.1 L553.8,418.3 L554.8,418.5 L555.8,418.8 L556.8,419.0 L557.8,419.2 L558.8,419.4 L559.8,419.6 L560.8,419.6 L561.8,419.4 L562.8,419.3 L563.8,419.1 L564.8,418.9 L565.8,418.7 L566.8,418.6 L567.8,418.4 L568.8,418.2 L569.8,418.0 L570.8,418.0 L571.8,418.2 L572.8,418.5 L573.8,418.7 L574.8,419.0 L575.8,419.3 L576.8,419.5 L577.8,419.2 L578.8,417.7 L579.8,416.2 L580.8,414.7 L581.8,413.1 L582.8,411.6 L583.8,410.1 L584.8,409.1 L585.8,408.6 L586.8,408.1 L587.8,407.6 L588.8,407.1 L589.8,406.6 L590.8,406.1 L591.8,405.5 L592.8,404.8 L593.8,404.1 L594.8,403.4 L595.8,402.7 L596.8,402.0 L597.8,401.3 L598.8,400.6 L599.8,399.9 L600.8,400.3 L601.8,400.9 L602.8,401.5 L603.8,402.2 L604.8,402.8 L605.8,403.4 L606.8,404.0 L607.8,404.8 L608.8,405.6 L609.8,406.3 L610.8,406.4 L611.8,405.7 L612.8,405.1 L613.8,404.4 L614.8,403.8 L615.8,403.2 L616.8,403.0 L617.8,402.7 L618.8,402.4 L619.8,402.2 L620.8,401.9 L621.8,401.6 L622.8,402.2 L623.8,403.5 L624.8,404.8 L625.8,406.1 L626.8,407.5 L627.8,409.0 L628.8,411.0 L629.8,413.0 L630.8,415.1 L631.8,417.1 L632.8,419.2 L633.8,421.5 L634.8,423.8 L635.8,426.1 L636.8,428.5 L637.8,430.8 L638.8,429.8 L639.8,428.8 L640.8,427.8 L641.8,426.8 L642.8,425.8 L643.8,425.6 L644.8,425.6 L645.8,425.6 L646.8,425.6 L647.8,425.6 L648.8,427.0 L649.8,429.0 L650.8,430.9 L651.8,432.9 L652.8,434.9 L653.8,438.0 L654.8,442.1 L655.8,446.2 L656.8,445.6 L657.8,445.1 L658.8,444.5 L659.8,444.0 L660.8,443.4 L661.8,442.9 L662.8,441.9 L663.8,440.9 L664.8,439.9 L665.8,438.8 L666.8,437.8 L667.8,436.8 L668.8,435.9 L669.8,436.2 L670.8,436.4 L671.8,436.7 L672.8,436.9 L673.8,437.2 L674.8,437.4 L675.8,437.5 L676.8,437.1 L677.8,436.7 L678.8,436.3 L679.8,435.9 L680.8,435.5 L681.8,435.1 L682.8,434.8 L683.8,434.4 L684.8,434.8 L685.8,435.8 L686.8,436.8 L687.8,437.8 L688.8,438.8 L689.8,439.7 L690.8,440.4 L691.8,441.2 L692.8,441.9 L693.8,442.7 L694.8,443.4 L695.8,444.2 L696.8,444.7 L697.8,445.0 L698.8,445.3 L699.8,445.5 L700.8,444.3 L701.8,442.6 L702.8,441.0 L703.8,439.5 L704.8,440.0 L705.8,440.4 L706.8,440.8 L707.8,441.2 L708.8,441.6 L709.8,442.0 L710.8,442.3 L711.8,442.6 L712.8,442.9 L713.8,443.2 L714.8,443.5 L715.8,447.2 L716.8,448.7 L717.8,449.1 L718.8,449.4 L719.8,449.7 L720.8,449.9 L721.8,450.2 L722.8,450.4 L723.8,450.6 L724.8,450.9 L725.8,451.1 L726.8,451.4 L727.8,451.6 L728.8,451.8 L729.8,452.1 L730.8,452.3 L731.8,452.6 L732.8,452.7 L733.8,452.9 L734.8,453.0 L735.8,453.1 L736.8,453.3 L737.8,453.4 L738.8,453.5 L739.8,453.6 L740.8,453.5 L741.8,453.5 L742.8,453.4 L743.8,453.3 L744.8,453.3 L745.8,453.2 L746.8,453.2 L747.8,453.1 L748.8,453.0 L749.8,453.0 L750.8,452.9 L751.8,452.9 L752.8,452.8 L753.8,452.7 L754.8,452.7 L755.8,452.6 L756.8,451.8 L757.8,450.5 L758.8,449.2 L759.8,448.4 L760.8,447.5 L761.8,446.7 L762.8,446.4 L763.8,446.1 L764.8,445.8 L765.8,445.6 L766.8,445.5 L767.8,445.4 L768.8,445.3 L769.8,445.2 L770.8,445.1 L771.8,445.3 L772.8,445.6 L773.8,445.8 L774.8,446.1 L775.8,446.4 L776.8,446.7 L777.8,447.0 L778.8,447.4 L779.8,447.7 L780.8,447.9 L781.8,448.1 L782.8,448.2 L783.8,448.3 L784.8,448.5 L785.8,448.6 L786.8,448.8 L787.8,448.9 L788.8,449.1 L789.8,449.2 L790.8,449.4 L791.8,449.4 L792.8,449.5 L793.8,449.5 L794.8,449.6 L795.8,449.7 L796.8,449.7 L797.8,449.8 L798.8,449.8 L799.8,449.9 L800.8,449.9 L801.8,450.0 L802.8,450.0 L803.8,450.0 L804.8,450.0 L805.8,450.0 L806.8,450.0 L807.8,450.0 L808.8,450.0 L809.8,450.0 L810.8,450.0 L811.8,450.0 L812.8,450.0 L813.8,450.2 L814.8,450.5 L815.8,450.8 L816.8,451.1 L817.8,451.4 L818.8,451.7 L819.8,451.8 L820.8,452.0 L821.8,452.1 L822.8,452.2 L823.8,452.4 L824.8,452.5 L825.8,452.7 L826.8,452.8 L827.8,453.0 L828.8,453.1 L829.8,453.3 L830.8,453.1 L831.8,452.9 L832.8,452.4 L833.8,451.7 L834.8,451.0 L835.8,450.3 L836.8,449.6 L837.8,448.9 L838.8,449.0 L839.8,449.0 L840.8,449.1 L841.8,449.1 L842.8,449.2 L843.8,449.2 L844.8,449.3 L845.8,449.3 L846.8,449.4 L847.8,449.5 L848.8,449.7 L849.8,449.8 L850.8,450.0 L851.8,450.1 L852.8,450.2 L853.8,450.4 L854.8,450.5 L855.8,450.6 L856.8,450.4 L857.8,450.2 L858.8,450.0 L859.8,449.8 L860.8,449.7 L861.8,449.5 L862.8,448.7 L863.8,447.5 L864.8,446.3 L865.8,445.2 L866.8,444.0 L867.8,442.8 L868.8,442.5 L869.8,442.1 L870.8,441.8 L871.8,441.5 L872.8,441.1 L873.8,440.8 L874.8,440.4 L875.8,440.0 L876.8,439.6 L877.8,439.2 L878.8,438.8 L879.8,438.4 L880.8,437.5 L881.8,436.5 L882.8,436.7 L883.8,437.7 L884.8,438.6 L885.8,439.5 L886.8,439.9 L887.8,440.3 L888.8,440.7 L889.8,441.2 L890.8,441.6 L891.8,442.9 L892.8,444.6 L893.8,446.3 L894.8,448.0 L895.8,449.7 L896.8,449.9 L897.8,450.2 L898.8,450.4 L899.8,450.7 L900.8,450.9 L901.8,451.2 L902.8,451.4 L903.8,451.6 L904.8,451.7 L905.8,451.8 L906.8,451.9 L907.8,452.0 L908.8,452.1 L909.8,452.2 L910.8,452.3 L911.8,452.4 L912.8,452.8 L913.8,453.3 L914.8,453.8 L915.8,454.3 L916.8,454.8 L917.8,455.3 L918.8,455.8 L919.8,456.3 L920.8,456.8 L921.8,456.7 L922.8,456.5 L923.8,456.3 L924.8,456.1 L925.8,455.9 L926.8,455.7 L927.8,455.5 L928.8,455.3 L929.8,455.1 L930.8,454.8 L931.8,454.5 L932.8,454.2 L933.8,453.9 L934.8,453.6 L935.8,453.3 L936.8,453.0 L937.8,452.7 L938.8,452.4 L939.8,452.5 L940.8,452.6 L941.8,452.7 L942.8,452.8 L943.8,452.9 L944.8,453.0 L945.8,453.1 L946.8,453.2 L947.8,453.3 L948.8,453.1 L949.8,452.9 L950.8,452.7 L951.8,452.5 L952.8,452.3 L953.8,452.1 L954.8,451.9 L955.8,451.7 L956.8,451.5 L957.8,451.4 L958.8,451.3 L959.8,449.6 L960.8,447.9 L961.8,446.1 L962.8,444.6 L963.8,443.1 L964.8,441.6 L965.8,440.1 L966.8,438.5 L967.8,436.9 L968.8,435.3 L969.8,433.4 L970.8,429.8 L971.8,426.1 L972.8,422.4 L973.8,421.7 L974.8,421.7 L975.8,421.7 L976.8,421.7 L977.8,421.7 L978.8,421.7 L979.8,421.7 L980.8,421.7 L981.8,421.7 L982.8,421.7 L983.8,421.7 L984.8,421.7 L985.8,420.3 L986.8,418.6 L987.8,416.9 L988.8,415.1 L989.8,413.4 L990.8,411.6 L991.8,409.8 L992.8,408.0 L993.8,406.2 L994.8,404.4 L995.8,405.8 L996.8,407.6 L997.8,409.4 L998.8,411.2 L999.8,411.8 L1000.8,411.5 L1001.8,411.3 L1002.8,411.0 L1003.8,410.6 L1004.8,409.8 L1005.8,409.0 L1006.8,408.2 L1007.8,407.4 L1008.8,407.8 L1009.8,408.5 L1010.8,409.3 L1011.8,410.1 L1012.8,410.9 L1013.8,413.2 L1014.8,415.5 L1015.8,417.8 L1016.8,419.0 L1017.8,417.5 L1018.8,415.9 L1019.8,414.4 L1020.8,413.2 L1021.8,412.2 L1022.8,411.2 L1023.8,410.2 L1024.8,410.8 L1025.8,411.8 L1026.8,412.8 L1027.8,413.7 L1028.8,414.7 L1029.8,415.5 L1030.8,414.7 L1031.8,413.9 L1032.8,413.1 L1033.8,412.3 L1034.8,412.3 L1035.8,413.1 L1036.8,413.9 L1037.8,414.7 L1038.8,415.5 L1039.8,416.3 L1040.8,416.4 L1041.8,416.3 L1042.8,416.1 L1043.8,416.0 L1044.8,415.8 L1045.8,415.7 L1045.8,506.3 Z" fill="#D9D9D9"/>
<path d="M716.8,506.3 L716.8,514.1 L717.8,516.3 L718.8,516.5 L719.8,516.8 L720.8,517.0 L721.8,517.3 L722.8,517.5 L723.8,517.7 L724.8,517.9 L725.8,518.1 L726.8,518.3 L727.8,518.5 L728.8,518.7 L729.8,518.9 L730.8,519.1 L731.8,519.3 L732.8,519.5 L733.8,519.7 L734.8,520.6 L735.8,521.6 L736.8,521.9 L737.8,521.6 L738.8,521.3 L739.8,520.9 L740.8,520.6 L741.8,520.3 L742.8,519.9 L743.8,519.7 L744.8,519.6 L745.8,519.5 L746.8,519.4 L747.8,519.3 L748.8,519.3 L749.8,519.2 L750.8,519.1 L751.8,519.0 L752.8,518.9 L753.8,518.8 L754.8,518.8 L755.8,518.7 L756.8,518.6 L757.8,518.5 L758.8,516.5 L759.8,514.0 L760.8,512.4 L761.8,512.2 L762.8,511.9 L763.8,511.7 L764.8,511.5 L765.8,511.2 L766.8,511.0 L767.8,510.8 L768.8,510.9 L769.8,511.0 L770.8,511.1 L771.8,511.2 L772.8,511.3 L773.8,511.4 L774.8,511.5 L775.8,511.6 L776.8,511.7 L777.8,511.8 L778.8,511.9 L779.8,512.0 L780.8,512.1 L781.8,512.2 L782.8,512.3 L783.8,512.4 L784.8,512.5 L785.8,512.7 L786.8,512.8 L787.8,512.9 L788.8,513.0 L789.8,513.2 L790.8,513.3 L791.8,513.4 L792.8,513.5 L793.8,513.7 L794.8,515.1 L795.8,517.1 L796.8,518.4 L797.8,517.9 L798.8,517.4 L799.8,516.9 L800.8,516.4 L801.8,516.0 L802.8,515.9 L803.8,515.7 L804.8,515.5 L805.8,515.4 L806.8,515.2 L807.8,515.0 L808.8,514.8 L809.8,514.5 L810.8,514.2 L811.8,513.9 L812.8,513.6 L813.8,513.3 L814.8,513.0 L815.8,512.7 L816.8,512.4 L817.8,512.1 L818.8,512.8 L819.8,513.8 L820.8,514.9 L821.8,516.0 L822.8,517.1 L823.8,518.1 L824.8,519.1 L825.8,520.1 L826.8,521.1 L827.8,522.1 L828.8,521.4 L829.8,520.6 L830.8,519.9 L831.8,519.1 L832.8,518.3 L833.8,517.3 L834.8,516.3 L835.8,515.3 L836.8,514.3 L837.8,513.6 L838.8,513.2 L839.8,512.8 L840.8,512.4 L841.8,512.1 L842.8,511.7 L843.8,511.3 L844.8,510.9 L845.8,510.6 L846.8,510.2 L847.8,510.0 L848.8,509.9 L849.8,509.8 L850.8,509.6 L851.8,509.5 L852.8,509.4 L853.8,509.3 L854.8,509.1 L855.8,509.0 L856.8,508.9 L857.8,508.6 L858.8,508.3 L859.8,508.1 L860.8,507.8 L861.8,507.6 L862.8,507.3 L863.8,507.0 L864.8,507.0 L865.8,507.0 L866.8,506.9 L867.8,506.9 L868.8,506.9 L869.8,506.9 L870.8,506.9 L871.8,506.8 L872.8,506.8 L873.8,506.8 L874.8,506.8 L875.8,506.8 L876.8,506.8 L877.8,506.7 L878.8,506.7 L879.8,506.7 L880.8,506.7 L881.8,506.7 L882.8,506.6 L883.8,506.6 L884.8,506.6 L885.8,506.6 L886.8,506.6 L887.8,506.5 L888.8,506.5 L889.8,506.5 L890.8,506.6 L891.8,506.8 L892.8,507.0 L893.8,507.2 L894.8,509.6 L895.8,512.6 L896.8,512.9 L897.8,513.3 L898.8,513.6 L899.8,513.9 L900.8,514.3 L901.8,515.0 L902.8,516.0 L903.8,517.1 L904.8,518.0 L905.8,517.6 L906.8,517.3 L907.8,517.0 L908.8,516.6 L909.8,516.3 L910.8,519.3 L911.8,523.8 L912.8,528.3 L913.8,532.4 L914.8,533.0 L915.8,533.7 L916.8,534.4 L917.8,535.0 L918.8,535.7 L919.8,536.6 L920.8,537.6 L921.8,538.6 L922.8,539.4 L923.8,538.8 L924.8,538.1 L925.8,537.4 L926.8,536.8 L927.8,536.1 L928.8,534.9 L929.8,533.4 L930.8,531.9 L931.8,530.3 L932.8,528.3 L933.8,526.3 L934.8,524.4 L935.8,522.4 L936.8,520.4 L937.8,519.8 L938.8,519.8 L939.8,519.8 L940.8,519.8 L941.8,519.8 L942.8,520.2 L943.8,521.4 L944.8,522.6 L945.8,523.8 L946.8,525.0 L947.8,524.2 L948.8,523.0 L949.8,521.8 L950.8,520.5 L951.8,519.6 L952.8,519.1 L953.8,518.6 L954.8,518.1 L955.8,516.8 L956.8,515.3 L957.8,513.8 L958.8,512.2 L959.8,510.2 L960.8,508.2 L961.8,506.9 L962.8,506.4 L962.8,506.3 Z" fill="#FF9999"/>
<path d="M911.8,506.3 L911.8,510.8 L912.8,516.5 L913.8,522.2 L914.8,527.1 L915.8,527.7 L916.8,528.2 L917.8,528.8 L918.8,529.3 L919.8,529.9 L920.8,530.4 L921.8,530.0 L922.8,529.5 L923.8,529.0 L924.8,528.5 L925.8,528.0 L926.8,527.5 L927.8,527.0 L928.8,526.0 L929.8,524.7 L930.8,523.4 L931.8,522.0 L932.8,520.7 L933.8,517.1 L934.8,508.1 L934.8,506.3 Z" fill="#C00000"/>
<path d="M63.8,506.3 L63.8,419.0 L64.8,419.1 L65.8,419.3 L66.8,419.5 L67.8,419.6 L68.8,419.8 L69.8,420.0 L70.8,418.3 L71.8,416.1 L72.8,414.0 L73.8,411.8 L74.8,409.7 L75.8,407.5 L76.8,405.6 L77.8,405.6 L78.8,405.6 L79.8,405.6 L80.8,405.6 L81.8,405.6 L82.8,405.6 L83.8,405.6 L84.8,405.6 L85.8,405.6 L86.8,405.6 L87.8,405.6 L88.8,405.6 L89.8,403.7 L90.8,401.5 L91.8,399.3 L92.8,397.2 L93.8,395.0 L94.8,392.8 L95.8,391.2 L96.8,391.7 L97.8,392.2 L98.8,392.7 L99.8,393.2 L100.8,396.3 L101.8,400.1 L102.8,403.9 L103.8,407.7 L104.8,410.1 L105.8,410.2 L106.8,410.4 L107.8,410.6 L108.8,410.7 L109.8,410.9 L110.8,411.1 L111.8,412.9 L112.8,415.5 L113.8,418.1 L114.8,420.7 L115.8,423.3 L116.8,425.5 L117.8,425.0 L118.8,424.5 L119.8,424.0 L120.8,423.5 L121.8,423.0 L122.8,422.5 L123.8,422.8 L124.8,424.1 L125.8,425.4 L126.8,426.7 L127.8,428.0 L128.8,429.3 L129.8,430.5 L130.8,431.8 L131.8,434.4 L132.8,437.6 L133.8,440.8 L134.8,444.0 L135.8,447.1 L136.8,449.9 L137.8,448.9 L138.8,447.9 L139.8,446.9 L140.8,447.6 L141.8,448.8 L142.8,450.0 L143.8,451.2 L144.8,452.4 L145.8,453.2 L146.8,452.5 L147.8,451.8 L148.8,451.2 L149.8,451.2 L150.8,451.3 L151.8,451.5 L152.8,451.6 L153.8,451.7 L154.8,451.8 L155.8,452.0 L156.8,452.1 L157.8,452.2 L158.8,449.9 L159.8,447.7 L160.8,445.4 L161.8,443.1 L162.8,441.7 L163.8,440.8 L164.8,439.9 L165.8,439.0 L166.8,438.2 L167.8,437.3 L168.8,436.4 L169.8,435.5 L170.8,434.7 L171.8,434.9 L172.8,435.7 L173.8,436.4 L174.8,437.2 L175.8,438.0 L176.8,438.8 L177.8,439.6 L178.8,440.4 L179.8,441.2 L180.8,442.0 L181.8,441.4 L182.8,440.3 L183.8,439.2 L184.8,438.1 L185.8,437.0 L186.8,435.9 L187.8,434.8 L188.8,433.7 L189.8,432.5 L190.8,431.4 L191.8,431.2 L192.8,431.4 L193.8,431.5 L194.8,431.7 L195.8,431.9 L196.8,432.0 L197.8,432.2 L198.8,431.0 L199.8,429.8 L200.8,428.7 L201.8,427.5 L202.8,426.3 L203.8,425.1 L204.8,425.2 L205.8,427.2 L206.8,429.2 L207.8,431.2 L208.8,433.2 L209.8,435.2 L210.8,437.2 L211.8,439.2 L212.8,439.4 L213.8,438.4 L214.8,437.5 L215.8,436.8 L216.8,437.3 L217.8,437.8 L218.8,438.3 L219.8,438.8 L220.8,439.3 L221.8,439.8 L222.8,439.3 L223.8,438.1 L224.8,437.0 L225.8,435.8 L226.8,434.6 L227.8,433.5 L228.8,432.3 L229.8,432.5 L230.8,432.9 L231.8,433.3 L232.8,433.7 L233.8,434.1 L234.8,434.5 L235.8,434.8 L236.8,435.2 L237.8,435.6 L238.8,436.8 L239.8,438.1 L240.8,439.3 L241.8,440.6 L242.8,441.8 L243.8,443.1 L244.8,444.3 L245.8,445.6 L246.8,446.7 L247.8,446.4 L248.8,446.2 L249.8,446.0 L250.8,445.8 L251.8,445.5 L252.8,445.3 L253.8,445.1 L254.8,444.8 L255.8,444.6 L256.8,444.6 L257.8,446.2 L258.8,447.9 L259.8,449.6 L260.8,451.2 L261.8,452.9 L262.8,454.6 L263.8,456.3 L264.8,457.9 L265.8,459.6 L266.8,461.1 L267.8,460.6 L268.8,460.1 L269.8,459.6 L270.8,459.1 L271.8,458.6 L272.8,458.1 L273.8,458.4 L274.8,459.5 L275.8,460.6 L276.8,461.7 L277.8,462.9 L278.8,464.0 L279.8,465.1 L280.8,466.2 L281.8,467.4 L282.8,467.5 L283.8,467.0 L284.8,466.5 L285.8,466.0 L286.8,465.5 L287.8,465.0 L288.8,464.5 L289.8,466.0 L290.8,467.8 L291.8,469.5 L292.8,471.3 L293.8,472.3 L294.8,472.4 L295.8,472.5 L296.8,472.6 L297.8,472.8 L298.8,472.9 L299.8,473.0 L300.8,473.1 L301.8,473.3 L302.8,473.8 L303.8,474.5 L304.8,475.3 L305.8,476.0 L306.8,476.7 L307.8,476.7 L308.8,476.7 L309.8,476.7 L310.8,476.7 L311.8,476.0 L312.8,474.9 L313.8,473.9 L314.8,473.3 L315.8,473.3 L316.8,473.3 L317.8,473.3 L318.8,470.0 L319.8,466.8 L320.8,463.5 L321.8,460.2 L322.8,458.6 L323.8,458.1 L324.8,457.6 L325.8,457.1 L326.8,456.6 L327.8,456.1 L328.8,455.6 L329.8,454.4 L330.8,453.1 L331.8,451.7 L332.8,450.4 L333.8,449.1 L334.8,447.8 L335.8,446.9 L336.8,448.1 L337.8,449.3 L338.8,450.4 L339.8,451.6 L340.8,452.8 L341.8,453.9 L342.8,455.6 L343.8,457.6 L344.8,459.5 L345.8,461.1 L346.8,461.1 L347.8,461.1 L348.8,461.1 L349.8,461.1 L350.8,461.1 L351.8,461.1 L352.8,461.5 L353.8,462.2 L354.8,462.8 L355.8,463.5 L356.8,464.2 L357.8,464.9 L358.8,465.5 L359.8,466.2 L360.8,466.9 L361.8,467.5 L362.8,466.6 L363.8,464.6 L364.8,462.7 L365.8,460.7 L366.8,458.9 L367.8,458.9 L368.8,458.9 L369.8,458.9 L370.8,458.9 L371.8,458.9 L372.8,458.9 L373.8,458.9 L374.8,459.3 L375.8,460.3 L376.8,461.2 L377.8,462.2 L378.8,463.2 L379.8,462.7 L380.8,462.0 L381.8,461.4 L382.8,460.7 L383.8,460.1 L384.8,459.4 L385.8,458.7 L386.8,458.1 L387.8,457.4 L388.8,456.8 L389.8,457.6 L390.8,458.6 L391.8,459.6 L392.8,460.6 L393.8,461.6 L394.8,462.3 L395.8,462.5 L396.8,462.8 L397.8,463.0 L398.8,463.3 L399.8,463.5 L400.8,463.8 L401.8,464.0 L402.8,464.3 L403.8,465.1 L404.8,466.6 L405.8,467.8 L406.8,467.7 L407.8,467.6 L408.8,467.5 L409.8,467.4 L410.8,467.3 L411.8,467.2 L412.8,467.1 L413.8,467.0 L414.8,466.9 L415.8,466.8 L416.8,466.9 L417.8,468.7 L418.8,470.6 L419.8,472.4 L420.8,474.3 L421.8,476.1 L422.8,478.0 L423.8,478.5 L424.8,477.8 L425.8,477.0 L426.8,476.3 L427.8,475.5 L428.8,474.8 L429.8,474.0 L430.8,473.3 L431.8,472.5 L432.8,471.7 L433.8,470.9 L434.8,470.1 L435.8,469.3 L436.8,468.5 L437.8,467.7 L438.8,466.9 L439.8,466.1 L440.8,465.3 L441.8,464.5 L442.8,463.7 L443.8,463.0 L444.8,462.3 L445.8,461.6 L446.8,461.0 L447.8,460.3 L448.8,459.7 L449.8,459.0 L450.8,458.4 L451.8,457.7 L452.8,457.0 L453.8,456.9 L454.8,457.3 L455.8,457.7 L456.8,458.1 L457.8,458.5 L458.8,458.9 L459.8,459.1 L460.8,459.4 L461.8,459.6 L462.8,459.9 L463.8,460.1 L464.8,460.4 L465.8,460.6 L466.8,460.9 L467.8,461.1 L468.8,462.8 L469.8,464.5 L470.8,466.1 L471.8,467.8 L472.8,469.5 L473.8,471.2 L474.8,472.4 L475.8,472.8 L476.8,473.2 L477.8,473.6 L478.8,474.0 L479.8,474.4 L480.8,474.8 L481.8,475.2 L482.8,475.6 L483.8,476.0 L484.8,476.4 L485.8,477.1 L486.8,478.9 L487.8,480.8 L488.8,482.6 L489.8,484.5 L490.8,486.3 L491.8,488.2 L492.8,488.4 L493.8,487.6 L494.8,486.8 L495.8,486.0 L496.8,485.2 L497.8,484.4 L498.8,484.0 L499.8,483.6 L500.8,483.2 L501.8,482.8 L502.8,482.4 L503.8,482.9 L504.8,484.3 L505.8,485.6 L506.8,487.0 L507.8,488.4 L508.8,489.7 L509.8,491.1 L510.8,492.5 L511.8,493.9 L512.8,494.6 L513.8,494.9 L514.8,495.2 L515.8,495.5 L516.8,495.8 L517.8,496.1 L518.8,496.3 L519.8,496.6 L520.8,497.1 L521.8,497.6 L522.8,498.1 L523.8,498.6 L524.8,499.3 L525.8,500.3 L526.8,501.3 L527.8,502.2 L528.8,503.2 L529.8,504.2 L530.8,502.6 L531.8,500.3 L532.8,498.0 L533.8,495.8 L534.8,494.5 L535.8,494.7 L536.8,494.9 L537.8,495.1 L538.8,495.3 L539.8,495.6 L540.8,495.9 L541.8,496.3 L542.8,496.6 L543.8,497.0 L544.8,497.4 L545.8,497.8 L546.8,498.1 L547.8,498.5 L548.8,498.9 L549.8,497.3 L550.8,495.5 L551.8,493.8 L552.8,492.0 L553.8,491.2 L554.8,491.3 L555.8,491.4 L556.8,491.5 L557.8,491.7 L558.8,491.8 L559.8,491.9 L560.8,492.0 L561.8,492.2 L562.8,491.3 L563.8,489.8 L564.8,488.8 L565.8,488.4 L566.8,488.1 L567.8,487.8 L568.8,487.5 L569.8,487.1 L570.8,486.8 L571.8,486.7 L572.8,486.7 L573.8,486.7 L574.8,486.7 L575.8,486.7 L576.8,486.7 L577.8,486.7 L578.8,485.9 L579.8,485.2 L580.8,484.4 L581.8,483.7 L582.8,482.9 L583.8,482.2 L584.8,481.4 L585.8,480.7 L586.8,479.9 L587.8,479.3 L588.8,478.6 L589.8,477.9 L590.8,477.3 L591.8,476.6 L592.8,475.9 L593.8,475.2 L594.8,474.6 L595.8,473.9 L596.8,473.3 L597.8,473.5 L598.8,473.6 L599.8,473.7 L600.8,473.9 L601.8,474.0 L602.8,474.2 L603.8,474.3 L604.8,474.5 L605.8,474.7 L606.8,474.8 L607.8,475.0 L608.8,475.2 L609.8,475.4 L610.8,475.5 L611.8,475.5 L612.8,475.2 L613.8,475.0 L614.8,474.8 L615.8,474.6 L616.8,474.4 L617.8,474.2 L618.8,474.0 L619.8,473.8 L620.8,473.6 L621.8,473.4 L622.8,474.1 L623.8,475.4 L624.8,476.8 L625.8,478.1 L626.8,479.4 L627.8,480.7 L628.8,482.1 L629.8,484.0 L630.8,486.0 L631.8,488.1 L632.8,490.1 L633.8,492.1 L634.8,494.1 L635.8,496.0 L636.8,498.0 L637.8,500.0 L638.8,500.8 L639.8,501.5 L640.8,500.1 L641.8,498.1 L642.8,496.0 L643.8,494.2 L644.8,493.5 L645.8,492.7 L646.8,493.2 L647.8,494.0 L648.8,494.9 L649.8,496.1 L650.8,498.8 L651.8,501.5 L652.8,504.2 L653.8,506.8 L654.8,509.3 L655.8,511.2 L656.8,510.5 L657.8,509.9 L658.8,509.2 L659.8,508.8 L660.8,508.5 L661.8,508.3 L662.8,508.0 L663.8,507.8 L664.8,507.1 L665.8,506.2 L666.8,505.3 L667.8,504.4 L668.8,503.5 L669.8,503.7 L670.8,504.0 L671.8,504.2 L672.8,504.5 L673.8,504.8 L674.8,504.6 L675.8,504.4 L676.8,504.2 L677.8,504.0 L678.8,503.8 L679.8,503.6 L680.8,503.4 L681.8,503.5 L682.8,503.7 L683.8,503.8 L684.8,504.0 L685.8,504.2 L686.8,504.8 L687.8,505.3 L688.8,505.9 L689.8,506.5 L690.8,507.2 L691.8,508.4 L692.8,509.6 L693.8,510.8 L694.8,511.3 L695.8,511.3 L696.8,511.3 L697.8,511.3 L698.8,511.3 L699.8,511.3 L700.8,510.5 L701.8,509.2 L702.8,507.8 L703.8,506.5 L704.8,506.6 L705.8,506.7 L706.8,506.8 L707.8,506.8 L708.8,506.9 L709.8,507.0 L710.8,508.1 L711.8,509.3 L712.8,510.4 L713.8,511.6 L714.8,512.7 L715.8,513.7 L716.8,514.7 L717.8,515.7 L718.8,516.1 L719.8,516.1 L720.8,516.1 L721.8,516.1 L722.8,516.1 L723.8,516.1 L724.8,516.1 L725.8,516.1 L726.8,516.1 L727.8,516.1 L728.8,516.1 L729.8,516.1 L730.8,516.1 L731.8,516.1 L732.8,516.0 L733.8,515.9 L734.8,515.9 L735.8,515.8 L736.8,515.7 L737.8,515.6 L738.8,515.6 L739.8,515.5 L740.8,515.4 L741.8,515.4 L742.8,515.3 L743.8,515.2 L744.8,515.1 L745.8,515.1 L746.8,515.0 L747.8,514.9 L748.8,514.8 L749.8,514.6 L750.8,514.4 L751.8,514.2 L752.8,514.0 L753.8,513.8 L754.8,513.6 L755.8,513.4 L756.8,513.2 L757.8,513.0 L758.8,512.8 L759.8,512.6 L760.8,512.4 L761.8,512.2 L762.8,511.9 L763.8,511.7 L764.8,511.5 L765.8,511.2 L766.8,511.0 L767.8,510.8 L768.8,510.9 L769.8,511.0 L770.8,511.1 L771.8,511.2 L772.8,511.3 L773.8,511.4 L774.8,511.5 L775.8,511.6 L776.8,511.7 L777.8,511.8 L778.8,511.9 L779.8,512.0 L780.8,512.1 L781.8,512.2 L782.8,512.3 L783.8,512.4 L784.8,512.6 L785.8,512.7 L786.8,512.9 L787.8,513.0 L788.8,513.2 L789.8,513.3 L790.8,513.5 L791.8,513.7 L792.8,513.8 L793.8,514.0 L794.8,514.1 L795.8,514.3 L796.8,514.4 L797.8,514.5 L798.8,514.5 L799.8,514.5 L800.8,514.6 L801.8,514.6 L802.8,514.7 L803.8,514.7 L804.8,514.7 L805.8,514.8 L806.8,514.8 L807.8,514.9 L808.8,514.8 L809.8,514.5 L810.8,514.2 L811.8,513.9 L812.8,513.6 L813.8,513.3 L814.8,513.0 L815.8,512.7 L816.8,512.4 L817.8,512.1 L818.8,511.8 L819.8,511.5 L820.8,511.3 L821.8,511.3 L822.8,511.3 L823.8,511.3 L824.8,511.3 L825.8,511.3 L826.8,511.3 L827.8,511.3 L828.8,511.3 L829.8,511.3 L830.8,511.3 L831.8,511.3 L832.8,511.2 L833.8,510.9 L834.8,510.6 L835.8,510.2 L836.8,509.9 L837.8,509.6 L838.8,509.2 L839.8,508.9 L840.8,508.4 L841.8,507.9 L842.8,507.4 L843.8,506.9 L844.8,506.5 L845.8,506.4 L846.8,506.4 L847.8,506.3 L848.8,506.2 L849.8,506.2 L850.8,506.1 L851.8,506.1 L852.8,506.0 L853.8,505.9 L854.8,505.9 L855.8,505.8 L856.8,505.7 L857.8,505.7 L858.8,505.6 L859.8,505.6 L860.8,505.5 L861.8,505.4 L862.8,505.4 L863.8,505.3 L864.8,504.6 L865.8,503.9 L866.8,503.1 L867.8,502.4 L868.8,501.7 L869.8,501.4 L870.8,501.1 L871.8,500.8 L872.8,500.5 L873.8,500.2 L874.8,499.9 L875.8,499.6 L876.8,499.3 L877.8,499.0 L878.8,498.7 L879.8,498.4 L880.8,498.1 L881.8,497.7 L882.8,497.4 L883.8,497.9 L884.8,498.9 L885.8,499.8 L886.8,500.7 L887.8,501.6 L888.8,502.1 L889.8,502.4 L890.8,502.8 L891.8,503.2 L892.8,503.6 L893.8,504.0 L894.8,504.4 L895.8,504.8 L896.8,505.2 L897.8,505.6 L898.8,506.1 L899.8,506.4 L900.8,506.7 L901.8,506.9 L902.8,507.2 L903.8,507.4 L904.8,507.7 L905.8,507.9 L906.8,508.2 L907.8,508.4 L908.8,508.7 L909.8,508.9 L910.8,511.1 L911.8,514.1 L912.8,516.8 L913.8,519.5 L914.8,521.6 L915.8,521.6 L916.8,521.6 L917.8,521.6 L918.8,521.6 L919.8,521.6 L920.8,521.6 L921.8,521.4 L922.8,521.1 L923.8,520.9 L924.8,520.6 L925.8,520.4 L926.8,520.1 L927.8,519.9 L928.8,519.5 L929.8,519.0 L930.8,518.5 L931.8,518.0 L932.8,517.5 L933.8,517.1 L934.8,517.2 L935.8,517.3 L936.8,517.4 L937.8,517.5 L938.8,517.5 L939.8,517.6 L940.8,517.7 L941.8,517.8 L942.8,517.9 L943.8,518.0 L944.8,517.8 L945.8,517.4 L946.8,517.0 L947.8,516.6 L948.8,516.2 L949.8,515.8 L950.8,515.4 L951.8,515.0 L952.8,514.6 L953.8,513.8 L954.8,512.8 L955.8,511.8 L956.8,510.8 L957.8,509.8 L958.8,508.8 L959.8,507.8 L960.8,506.8 L961.8,505.8 L962.8,504.5 L963.8,502.8 L964.8,501.1 L965.8,499.4 L966.8,497.7 L967.8,495.9 L968.8,493.3 L969.8,490.7 L970.8,488.2 L971.8,485.6 L972.8,483.8 L973.8,483.7 L974.8,483.6 L975.8,483.5 L976.8,483.4 L977.8,483.2 L978.8,483.1 L979.8,483.0 L980.8,482.9 L981.8,482.8 L982.8,482.7 L983.8,482.6 L984.8,482.5 L985.8,481.9 L986.8,481.2 L987.8,480.4 L988.8,479.7 L989.8,478.9 L990.8,478.2 L991.8,477.4 L992.8,476.7 L993.8,475.9 L994.8,475.2 L995.8,475.6 L996.8,476.4 L997.8,477.2 L998.8,478.0 L999.8,478.8 L1000.8,478.7 L1001.8,478.4 L1002.8,478.0 L1003.8,477.6 L1004.8,477.3 L1005.8,476.9 L1006.8,476.6 L1007.8,476.5 L1008.8,477.1 L1009.8,477.7 L1010.8,478.3 L1011.8,478.9 L1012.8,480.6 L1013.8,482.6 L1014.8,484.6 L1015.8,484.5 L1016.8,483.8 L1017.8,483.1 L1018.8,482.5 L1019.8,481.8 L1020.8,481.1 L1021.8,480.5 L1022.8,480.2 L1023.8,480.9 L1024.8,481.5 L1025.8,482.2 L1026.8,482.9 L1027.8,482.8 L1028.8,482.4 L1029.8,482.1 L1030.8,481.8 L1031.8,481.5 L1032.8,481.5 L1033.8,482.1 L1034.8,482.7 L1035.8,483.3 L1036.8,483.9 L1037.8,484.1 L1038.8,484.2 L1039.8,484.3 L1040.8,484.4 L1041.8,484.5 L1042.8,484.6 L1043.8,484.7 L1044.8,484.8 L1045.8,484.9 L1045.8,506.3 Z" fill="#003F9E"/>
<path d="M63.8,224.1 L64.3,231.6 L64.8,229.8 L65.3,233.6 L65.8,237.1 L66.3,234.5 L66.8,235.5 L67.3,234.3 L67.8,238.7 L68.3,243.5 L68.8,247.7 L69.3,247.3 L69.8,242.0 L70.3,237.1 L70.8,237.1 L71.3,240.6 L71.8,232.4 L72.3,230.0 L72.8,229.8 L73.3,215.6 L73.8,214.6 L74.3,211.5 L74.8,199.0 L75.3,203.2 L75.8,207.8 L76.3,202.3 L76.8,207.1 L77.3,210.5 L77.8,211.2 L78.3,209.4 L78.8,207.1 L79.3,209.6 L79.8,208.6 L80.3,209.5 L80.8,208.5 L81.3,212.1 L81.8,211.0 L82.3,206.5 L82.8,208.2 L83.3,205.3 L83.8,206.4 L84.3,206.5 L84.8,210.2 L85.3,208.7 L85.8,210.4 L86.3,213.2 L86.8,211.2 L87.3,212.5 L87.8,203.2 L88.3,205.1 L88.8,199.4 L89.3,196.2 L89.8,194.8 L90.3,188.5 L90.8,182.2 L91.3,173.3 L91.8,168.7 L92.3,169.4 L92.8,163.3 L93.3,163.5 L93.8,164.5 L94.3,161.6 L94.8,155.7 L95.3,158.4 L95.8,161.4 L96.3,158.9 L96.8,165.7 L97.3,170.0 L97.8,173.6 L98.3,175.2 L98.8,183.0 L99.3,180.3 L99.8,185.1 L100.3,188.9 L100.8,193.6 L101.3,193.5 L101.8,192.6 L102.3,196.4 L102.8,198.3 L103.3,200.3 L103.8,201.3 L104.3,205.6 L104.8,208.1 L105.3,213.1 L105.8,215.5 L106.3,213.2 L106.8,212.8 L107.3,214.9 L107.8,215.4 L108.3,213.1 L108.8,213.7 L109.3,213.8 L109.8,205.3 L110.3,211.0 L110.8,204.9 L111.3,205.3 L111.8,206.8 L112.3,207.5 L112.8,204.1 L113.3,210.0 L113.8,206.7 L114.3,210.7 L114.8,216.1 L115.3,217.0 L115.8,222.5 L116.3,228.0 L116.8,233.1 L117.3,234.0 L117.8,229.2 L118.3,232.7 L118.8,233.2 L119.3,230.0 L119.8,234.1 L120.3,234.8 L120.8,236.7 L121.3,238.1 L121.8,231.9 L122.3,233.4 L122.8,237.5 L123.3,233.8 L123.8,235.2 L124.3,238.6 L124.8,236.0 L125.3,241.9 L125.8,243.4 L126.3,239.0 L126.8,245.2 L127.3,249.6 L127.8,253.2 L128.3,249.8 L128.8,251.2 L129.3,259.0 L129.8,261.5 L130.3,258.0 L130.8,262.2 L131.3,268.7 L131.8,274.0 L132.3,273.8 L132.8,282.9 L133.3,289.3 L133.8,292.4 L134.3,294.5 L134.8,298.7 L135.3,304.3 L135.8,312.2 L136.3,303.7 L136.8,301.0 L137.3,301.4 L137.8,296.7 L138.3,294.9 L138.8,291.5 L139.3,293.1 L139.8,292.1 L140.3,291.7 L140.8,291.2 L141.3,295.6 L141.8,300.5 L142.3,306.1 L142.8,309.3 L143.3,304.5 L143.8,303.7 L144.3,309.4 L144.8,309.5 L145.3,305.1 L145.8,306.8 L146.3,306.8 L146.8,304.0 L147.3,305.3 L147.8,298.0 L148.3,301.3 L148.8,302.8 L149.3,303.0 L149.8,310.5 L150.3,305.1 L150.8,311.5 L151.3,308.2 L151.8,311.9 L152.3,313.7 L152.8,313.3 L153.3,316.4 L153.8,316.9 L154.3,314.8 L154.8,317.5 L155.3,312.6 L155.8,312.3 L156.3,313.1 L156.8,312.8 L157.3,311.0 L157.8,316.0 L158.3,311.5 L158.8,302.1 L159.3,300.4 L159.8,295.5 L160.3,293.4 L160.8,288.3 L161.3,286.2 L161.8,285.7 L162.3,279.9 L162.8,280.2 L163.3,279.6 L163.8,280.5 L164.3,275.0 L164.8,279.9 L165.3,281.2 L165.8,278.3 L166.3,275.4 L166.8,277.7 L167.3,274.7 L167.8,271.0 L168.3,263.9 L168.8,266.9 L169.3,263.4 L169.8,256.1 L170.3,254.1 L170.8,246.7 L171.3,256.4 L171.8,257.6 L172.3,261.3 L172.8,267.3 L173.3,265.3 L173.8,268.5 L174.3,267.5 L174.8,269.7 L175.3,266.0 L175.8,272.2 L176.3,271.7 L176.8,274.4 L177.3,274.6 L177.8,281.7 L178.3,285.5 L178.8,286.9 L179.3,286.8 L179.8,293.6 L180.3,287.4 L180.8,291.0 L181.3,286.6 L181.8,282.0 L182.3,281.1 L182.8,279.4 L183.3,274.2 L183.8,276.0 L184.3,271.2 L184.8,273.1 L185.3,272.5 L185.8,266.9 L186.3,270.7 L186.8,268.0 L187.3,271.0 L187.8,269.3 L188.3,268.4 L188.8,271.4 L189.3,265.1 L189.8,268.5 L190.3,267.6 L190.8,266.3 L191.3,272.5 L191.8,272.1 L192.3,275.6 L192.8,274.4 L193.3,273.5 L193.8,279.2 L194.3,273.4 L194.8,273.5 L195.3,278.2 L195.8,275.3 L196.3,275.0 L196.8,278.5 L197.3,274.2 L197.8,278.0 L198.3,276.0 L198.8,273.5 L199.3,271.4 L199.8,272.5 L200.3,277.5 L200.8,273.2 L201.3,271.3 L201.8,272.1 L202.3,276.2 L202.8,270.7 L203.3,274.9 L203.8,270.1 L204.3,276.6 L204.8,274.1 L205.3,272.3 L205.8,280.3 L206.3,278.0 L206.8,282.4 L207.3,282.6 L207.8,281.3 L208.3,283.1 L208.8,285.1 L209.3,286.5 L209.8,287.1 L210.3,288.3 L210.8,295.9 L211.3,291.2 L211.8,295.4 L212.3,293.9 L212.8,295.8 L213.3,300.8 L213.8,303.2 L214.3,300.8 L214.8,298.6 L215.3,306.5 L215.8,300.8 L216.3,304.2 L216.8,306.2 L217.3,309.6 L217.8,310.1 L218.3,307.5 L218.8,304.8 L219.3,306.7 L219.8,305.7 L220.3,304.6 L220.8,302.3 L221.3,296.9 L221.8,297.1 L222.3,297.2 L222.8,296.1 L223.3,297.2 L223.8,291.9 L224.3,293.7 L224.8,290.6 L225.3,292.3 L225.8,287.2 L226.3,288.0 L226.8,284.4 L227.3,284.0 L227.8,287.9 L228.3,282.6 L228.8,285.4 L229.3,281.8 L229.8,277.4 L230.3,283.3 L230.8,278.9 L231.3,285.4 L231.8,281.0 L232.3,286.6 L232.8,284.4 L233.3,285.5 L233.8,289.5 L234.3,285.0 L234.8,284.8 L235.3,284.0 L235.8,278.4 L236.3,281.9 L236.8,281.1 L237.3,274.6 L237.8,275.9 L238.3,275.9 L238.8,280.7 L239.3,277.7 L239.8,282.7 L240.3,286.4 L240.8,287.8 L241.3,285.3 L241.8,292.0 L242.3,289.7 L242.8,295.3 L243.3,295.0 L243.8,294.5 L244.3,299.2 L244.8,300.6 L245.3,299.3 L245.8,300.6 L246.3,295.4 L246.8,294.8 L247.3,293.7 L247.8,295.8 L248.3,294.3 L248.8,293.6 L249.3,294.0 L249.8,292.5 L250.3,290.4 L250.8,293.3 L251.3,291.7 L251.8,292.6 L252.3,295.5 L252.8,290.4 L253.3,293.1 L253.8,292.9 L254.3,290.3 L254.8,291.3 L255.3,294.5 L255.8,290.5 L256.3,294.0 L256.8,295.9 L257.3,293.9 L257.8,299.1 L258.3,297.9 L258.8,298.1 L259.3,300.6 L259.8,299.9 L260.3,302.8 L260.8,301.1 L261.3,306.1 L261.8,304.4 L262.3,303.2 L262.8,305.1 L263.3,308.7 L263.8,308.8 L264.3,307.4 L264.8,307.2 L265.3,308.0 L265.8,312.5 L266.3,307.6 L266.8,313.3 L267.3,313.7 L267.8,310.3 L268.3,310.7 L268.8,311.7 L269.3,312.8 L269.8,313.3 L270.3,313.2 L270.8,308.2 L271.3,307.3 L271.8,308.7 L272.3,308.7 L272.8,309.0 L273.3,305.6 L273.8,309.1 L274.3,311.4 L274.8,312.0 L275.3,312.8 L275.8,313.3 L276.3,314.1 L276.8,309.0 L277.3,315.0 L277.8,311.6 L278.3,312.5 L278.8,314.0 L279.3,317.7 L279.8,316.1 L280.3,315.9 L280.8,317.4 L281.3,322.2 L281.8,323.2 L282.3,320.5 L282.8,322.7 L283.3,324.0 L283.8,323.6 L284.3,324.7 L284.8,321.6 L285.3,322.8 L285.8,324.0 L286.3,322.5 L286.8,316.9 L287.3,318.1 L287.8,320.0 L288.3,322.2 L288.8,321.3 L289.3,321.2 L289.8,322.6 L290.3,322.7 L290.8,327.8 L291.3,328.1 L291.8,327.7 L292.3,330.8 L292.8,331.0 L293.3,332.4 L293.8,332.7 L294.3,334.8 L294.8,339.1 L295.3,339.0 L295.8,340.4 L296.3,336.8 L296.8,339.8 L297.3,339.6 L297.8,338.6 L298.3,341.2 L298.8,339.9 L299.3,341.5 L299.8,345.6 L300.3,345.7 L300.8,346.6 L301.3,344.3 L301.8,346.2 L302.3,346.7 L302.8,348.5 L303.3,349.9 L303.8,356.4 L304.3,357.4 L304.8,354.6 L305.3,356.3 L305.8,361.9 L306.3,360.9 L306.8,361.1 L307.3,362.1 L307.8,361.4 L308.3,361.4 L308.8,360.5 L309.3,357.5 L309.8,357.5 L310.3,351.5 L310.8,352.6 L311.3,354.5 L311.8,349.0 L312.3,350.7 L312.8,351.2 L313.3,349.1 L313.8,352.5 L314.3,349.4 L314.8,349.0 L315.3,351.2 L315.8,345.6 L316.3,347.5 L316.8,340.1 L317.3,337.2 L317.8,333.6 L318.3,329.2 L318.8,322.3 L319.3,320.8 L319.8,317.9 L320.3,321.0 L320.8,320.2 L321.3,317.7 L321.8,319.3 L322.3,318.4 L322.8,315.0 L323.3,313.0 L323.8,315.4 L324.3,313.2 L324.8,310.9 L325.3,316.1 L325.8,315.5 L326.3,312.5 L326.8,312.4 L327.3,312.2 L327.8,313.2 L328.3,310.0 L328.8,310.2 L329.3,307.6 L329.8,307.2 L330.3,308.4 L330.8,306.1 L331.3,304.2 L331.8,305.4 L332.3,306.2 L332.8,302.0 L333.3,305.0 L333.8,303.7 L334.3,304.1 L334.8,306.1 L335.3,302.0 L335.8,303.3 L336.3,308.3 L336.8,308.9 L337.3,304.8 L337.8,309.5 L338.3,306.1 L338.8,307.9 L339.3,309.4 L339.8,312.1 L340.3,314.3 L340.8,319.0 L341.3,317.9 L341.8,317.8 L342.3,320.3 L342.8,320.4 L343.3,322.4 L343.8,326.6 L344.3,329.9 L344.8,331.1 L345.3,334.7 L345.8,335.8 L346.3,341.8 L346.8,343.1 L347.3,341.3 L347.8,342.8 L348.3,339.8 L348.8,339.0 L349.3,336.8 L349.8,339.3 L350.3,336.3 L350.8,340.0 L351.3,338.3 L351.8,338.3 L352.3,343.0 L352.8,344.6 L353.3,347.0 L353.8,344.1 L354.3,349.4 L354.8,351.3 L355.3,349.5 L355.8,351.8 L356.3,353.9 L356.8,353.0 L357.3,357.8 L357.8,358.0 L358.3,360.1 L358.8,358.9 L359.3,360.5 L359.8,359.9 L360.3,358.5 L360.8,358.8 L361.3,357.7 L361.8,350.6 L362.3,347.6 L362.8,345.3 L363.3,344.9 L363.8,344.5 L364.3,338.9 L364.8,337.9 L365.3,335.7 L365.8,335.1 L366.3,330.5 L366.8,329.0 L367.3,331.3 L367.8,330.0 L368.3,329.1 L368.8,331.3 L369.3,330.4 L369.8,326.5 L370.3,328.6 L370.8,329.5 L371.3,330.2 L371.8,325.2 L372.3,330.1 L372.8,326.1 L373.3,330.0 L373.8,329.9 L374.3,332.2 L374.8,330.7 L375.3,327.9 L375.8,331.6 L376.3,330.1 L376.8,334.2 L377.3,330.8 L377.8,333.6 L378.3,336.8 L378.8,335.0 L379.3,338.9 L379.8,340.3 L380.3,341.7 L380.8,343.6 L381.3,341.3 L381.8,340.1 L382.3,339.8 L382.8,339.5 L383.3,336.6 L383.8,339.3 L384.3,334.7 L384.8,333.6 L385.3,337.6 L385.8,336.0 L386.3,332.0 L386.8,331.6 L387.3,333.4 L387.8,331.3 L388.3,328.4 L388.8,328.6 L389.3,331.4 L389.8,327.2 L390.3,334.0 L390.8,332.8 L391.3,331.9 L391.8,336.5 L392.3,333.7 L392.8,336.8 L393.3,338.9 L393.8,338.3 L394.3,343.1 L394.8,343.3 L395.3,341.0 L395.8,341.6 L396.3,341.6 L396.8,345.0 L397.3,343.3 L397.8,345.8 L398.3,347.9 L398.8,348.7 L399.3,344.9 L399.8,346.6 L400.3,348.0 L400.8,348.6 L401.3,350.0 L401.8,351.4 L402.3,354.2 L402.8,352.9 L403.3,354.3 L403.8,355.7 L404.3,355.5 L404.8,359.4 L405.3,358.7 L405.8,362.2 L406.3,361.4 L406.8,357.9 L407.3,357.7 L407.8,360.4 L408.3,359.0 L408.8,355.7 L409.3,358.8 L409.8,357.3 L410.3,359.2 L410.8,358.7 L411.3,359.5 L411.8,358.0 L412.3,359.4 L412.8,356.1 L413.3,357.1 L413.8,356.2 L414.3,361.3 L414.8,358.1 L415.3,360.9 L415.8,361.3 L416.3,363.7 L416.8,362.0 L417.3,361.5 L417.8,363.6 L418.3,362.9 L418.8,365.5 L419.3,368.5 L419.8,366.5 L420.3,372.8 L420.8,371.5 L421.3,371.4 L421.8,375.5 L422.3,372.6 L422.8,374.5 L423.3,377.7 L423.8,373.7 L424.3,376.2 L424.8,372.5 L425.3,374.8 L425.8,375.3 L426.3,372.7 L426.8,373.2 L427.3,374.2 L427.8,374.3 L428.3,370.4 L428.8,370.3 L429.3,372.0 L429.8,366.8 L430.3,367.8 L430.8,363.1 L431.3,363.3 L431.8,362.3 L432.3,361.7 L432.8,361.3 L433.3,360.7 L433.8,359.1 L434.3,358.6 L434.8,358.0 L435.3,353.9 L435.8,355.6 L436.3,352.9 L436.8,350.4 L437.3,348.9 L437.8,351.0 L438.3,349.3 L438.8,345.2 L439.3,346.9 L439.8,343.0 L440.3,344.2 L440.8,344.6 L441.3,344.5 L441.8,341.4 L442.3,340.3 L442.8,342.6 L443.3,343.4 L443.8,342.8 L444.3,340.0 L444.8,340.7 L445.3,340.8 L445.8,341.1 L446.3,338.4 L446.8,339.8 L447.3,336.2 L447.8,335.0 L448.3,334.8 L448.8,336.5 L449.3,336.6 L449.8,333.8 L450.3,334.4 L450.8,330.8 L451.3,333.2 L451.8,333.4 L452.3,334.6 L452.8,334.6 L453.3,338.2 L453.8,339.8 L454.3,340.9 L454.8,342.7 L455.3,341.9 L455.8,344.6 L456.3,342.2 L456.8,343.0 L457.3,339.6 L457.8,340.2 L458.3,336.7 L458.8,335.2 L459.3,340.6 L459.8,338.5 L460.3,337.9 L460.8,342.0 L461.3,344.7 L461.8,344.9 L462.3,347.1 L462.8,347.9 L463.3,346.5 L463.8,346.4 L464.3,346.2 L464.8,347.9 L465.3,350.3 L465.8,352.3 L466.3,348.0 L466.8,352.8 L467.3,353.0 L467.8,353.1 L468.3,350.7 L468.8,350.8 L469.3,355.4 L469.8,355.8 L470.3,355.8 L470.8,357.0 L471.3,356.6 L471.8,363.0 L472.3,363.5 L472.8,365.5 L473.3,366.0 L473.8,365.5 L474.3,368.1 L474.8,365.3 L475.3,367.3 L475.8,364.5 L476.3,364.8 L476.8,366.8 L477.3,364.0 L477.8,365.9 L478.3,363.9 L478.8,361.8 L479.3,361.1 L479.8,359.2 L480.3,361.7 L480.8,362.6 L481.3,358.9 L481.8,359.7 L482.3,362.6 L482.8,359.9 L483.3,363.5 L483.8,363.6 L484.3,362.6 L484.8,364.0 L485.3,361.8 L485.8,364.8 L486.3,367.1 L486.8,365.3 L487.3,365.8 L487.8,367.1 L488.3,369.2 L488.8,371.1 L489.3,375.4 L489.8,375.0 L490.3,376.9 L490.8,377.1 L491.3,378.5 L491.8,381.2 L492.3,382.2 L492.8,379.2 L493.3,378.2 L493.8,377.0 L494.3,376.3 L494.8,370.5 L495.3,368.8 L495.8,367.4 L496.3,363.1 L496.8,363.4 L497.3,364.8 L497.8,360.7 L498.3,361.3 L498.8,358.9 L499.3,360.4 L499.8,362.2 L500.3,359.6 L500.8,357.4 L501.3,358.4 L501.8,360.6 L502.3,362.5 L502.8,361.3 L503.3,362.3 L503.8,364.7 L504.3,361.9 L504.8,367.0 L505.3,366.0 L505.8,366.8 L506.3,371.2 L506.8,370.6 L507.3,372.2 L507.8,374.9 L508.3,379.1 L508.8,378.3 L509.3,382.2 L509.8,383.2 L510.3,386.9 L510.8,387.0 L511.3,392.3 L511.8,395.2 L512.3,392.4 L512.8,392.9 L513.3,393.2 L513.8,393.0 L514.3,388.7 L514.8,390.9 L515.3,390.7 L515.8,389.6 L516.3,387.4 L516.8,388.8 L517.3,388.0 L517.8,386.7 L518.3,387.7 L518.8,389.7 L519.3,390.0 L519.8,391.8 L520.3,391.8 L520.8,389.8 L521.3,391.3 L521.8,393.7 L522.3,392.6 L522.8,391.9 L523.3,396.0 L523.8,394.0 L524.3,395.0 L524.8,397.6 L525.3,398.9 L525.8,401.1 L526.3,405.4 L526.8,408.4 L527.3,408.8 L527.8,410.0 L528.3,413.9 L528.8,415.9 L529.3,415.0 L529.8,413.0 L530.3,411.3 L530.8,404.0 L531.3,398.8 L531.8,397.8 L532.3,393.6 L532.8,386.6 L533.3,382.9 L533.8,381.5 L534.3,383.8 L534.8,380.9 L535.3,382.8 L535.8,381.9 L536.3,384.9 L536.8,384.0 L537.3,384.0 L537.8,385.9 L538.3,385.8 L538.8,384.6 L539.3,386.4 L539.8,389.9 L540.3,389.8 L540.8,389.1 L541.3,390.6 L541.8,388.6 L542.3,390.7 L542.8,393.9 L543.3,391.0 L543.8,395.8 L544.3,395.8 L544.8,395.7 L545.3,395.8 L545.8,396.0 L546.3,398.7 L546.8,402.6 L547.3,400.7 L547.8,402.5 L548.3,396.3 L548.8,396.4 L549.3,393.4 L549.8,389.6 L550.3,383.8 L550.8,380.8 L551.3,377.4 L551.8,374.6 L552.3,379.5 L552.8,379.5 L553.3,382.2 L553.8,381.1 L554.3,382.7 L554.8,386.9 L555.3,388.7 L555.8,385.4 L556.3,390.2 L556.8,390.4 L557.3,388.8 L557.8,393.3 L558.3,392.5 L558.8,393.9 L559.3,396.8 L559.8,395.3 L560.3,391.3 L560.8,394.3 L561.3,390.4 L561.8,394.6 L562.3,392.8 L562.8,392.6 L563.3,389.1 L563.8,389.1 L564.3,391.1 L564.8,390.0 L565.3,392.0 L565.8,388.9 L566.3,389.2 L566.8,387.4 L567.3,389.1 L567.8,391.2 L568.3,387.2 L568.8,389.7 L569.3,386.1 L569.8,389.6 L570.3,387.6 L570.8,385.6 L571.3,390.5 L571.8,392.5 L572.3,390.0 L572.8,391.3 L573.3,393.5 L573.8,396.3 L574.3,400.0 L574.8,401.0 L575.3,399.3 L575.8,399.0 L576.3,401.1 L576.8,400.1 L577.3,397.4 L577.8,398.5 L578.3,399.6 L578.8,394.2 L579.3,394.2 L579.8,396.2 L580.3,391.6 L580.8,390.6 L581.3,389.9 L581.8,392.2 L582.3,387.9 L582.8,386.8 L583.3,388.7 L583.8,388.6 L584.3,388.3 L584.8,386.3 L585.3,389.3 L585.8,385.5 L586.3,387.4 L586.8,387.4 L587.3,388.8 L587.8,387.2 L588.3,387.3 L588.8,392.2 L589.3,388.9 L589.8,390.4 L590.3,393.0 L590.8,390.0 L591.3,389.9 L591.8,390.5 L592.3,386.8 L592.8,385.5 L593.3,387.8 L593.8,385.4 L594.3,382.8 L594.8,382.8 L595.3,384.0 L595.8,383.4 L596.3,381.0 L596.8,378.4 L597.3,380.7 L597.8,376.3 L598.3,378.2 L598.8,373.9 L599.3,377.1 L599.8,375.2 L600.3,374.5 L600.8,375.0 L601.3,377.0 L601.8,378.8 L602.3,379.5 L602.8,381.5 L603.3,379.3 L603.8,382.1 L604.3,384.8 L604.8,383.9 L605.3,387.7 L605.8,386.1 L606.3,385.7 L606.8,389.7 L607.3,388.0 L607.8,389.5 L608.3,390.5 L608.8,392.2 L609.3,387.8 L609.8,390.7 L610.3,388.2 L610.8,386.3 L611.3,385.3 L611.8,388.1 L612.3,387.1 L612.8,384.1 L613.3,383.3 L613.8,387.0 L614.3,382.1 L614.8,382.7 L615.3,385.5 L615.8,386.5 L616.3,383.7 L616.8,385.1 L617.3,383.7 L617.8,383.7 L618.3,381.7 L618.8,379.7 L619.3,378.0 L619.8,377.6 L620.3,374.6 L620.8,376.5 L621.3,373.6 L621.8,371.2 L622.3,375.5 L622.8,377.5 L623.3,376.5 L623.8,375.8 L624.3,380.7 L624.8,382.5 L625.3,384.6 L625.8,384.9 L626.3,385.2 L626.8,384.8 L627.3,385.3 L627.8,385.3 L628.3,390.5 L628.8,390.1 L629.3,389.6 L629.8,389.7 L630.3,391.6 L630.8,395.3 L631.3,393.2 L631.8,393.3 L632.3,396.1 L632.8,396.9 L633.3,399.9 L633.8,400.1 L634.3,400.6 L634.8,404.4 L635.3,404.7 L635.8,401.6 L636.3,402.4 L636.8,403.4 L637.3,401.1 L637.8,404.7 L638.3,404.4 L638.8,401.4 L639.3,404.5 L639.8,402.2 L640.3,400.0 L640.8,401.9 L641.3,401.3 L641.8,400.7 L642.3,400.9 L642.8,399.4 L643.3,395.3 L643.8,394.2 L644.3,390.8 L644.8,392.1 L645.3,391.7 L645.8,392.4 L646.3,397.4 L646.8,393.9 L647.3,395.5 L647.8,399.6 L648.3,400.0 L648.8,400.2 L649.3,403.4 L649.8,401.2 L650.3,398.5 L650.8,397.8 L651.3,393.0 L651.8,393.9 L652.3,392.9 L652.8,389.7 L653.3,392.6 L653.8,390.4 L654.3,399.7 L654.8,409.8 L655.3,416.8 L655.8,422.7 L656.3,429.4 L656.8,433.4 L657.3,430.4 L657.8,426.2 L658.3,428.0 L658.8,421.4 L659.3,422.5 L659.8,413.8 L660.3,416.4 L660.8,412.9 L661.3,408.7 L661.8,410.9 L662.3,409.7 L662.8,408.2 L663.3,406.8 L663.8,405.2 L664.3,404.3 L664.8,400.6 L665.3,402.5 L665.8,398.3 L666.3,395.7 L666.8,398.4 L667.3,394.9 L667.8,396.4 L668.3,399.0 L668.8,400.6 L669.3,398.9 L669.8,398.3 L670.3,402.6 L670.8,403.7 L671.3,405.6 L671.8,404.0 L672.3,407.5 L672.8,407.5 L673.3,407.8 L673.8,406.9 L674.3,406.2 L674.8,405.2 L675.3,406.7 L675.8,402.8 L676.3,405.1 L676.8,405.6 L677.3,405.2 L677.8,401.2 L678.3,402.0 L678.8,405.4 L679.3,404.2 L679.8,400.3 L680.3,402.0 L680.8,403.7 L681.3,403.7 L681.8,401.5 L682.3,398.8 L682.8,399.2 L683.3,397.8 L683.8,398.4 L684.3,397.5 L684.8,401.1 L685.3,400.8 L685.8,399.1 L686.3,403.3 L686.8,400.6 L687.3,402.8 L687.8,407.1 L688.3,408.5 L688.8,408.0 L689.3,414.5 L689.8,414.7 L690.3,416.5 L690.8,416.9 L691.3,420.2 L691.8,418.9 L692.3,422.1 L692.8,426.0 L693.3,427.4 L693.8,428.5 L694.3,427.3 L694.8,430.5 L695.3,436.0 L695.8,437.4 L696.3,438.3 L696.8,435.3 L697.3,433.1 L697.8,431.6 L698.3,431.3 L698.8,423.6 L699.3,419.7 L699.8,416.0 L700.3,417.7 L700.8,415.3 L701.3,417.0 L701.8,411.9 L702.3,411.4 L702.8,415.7 L703.3,411.0 L703.8,414.3 L704.3,413.8 L704.8,411.6 L705.3,412.1 L705.8,415.0 L706.3,411.0 L706.8,416.6 L707.3,411.5 L707.8,412.3 L708.3,415.2 L708.8,412.4 L709.3,418.2 L709.8,415.6 L710.3,415.0 L710.8,417.0 L711.3,420.7 L711.8,424.1 L712.3,421.0 L712.8,422.2 L713.3,422.8 L713.8,422.9 L714.3,423.0 L714.8,420.4 L715.3,426.3 L715.8,434.8 L716.3,442.1 L716.8,446.5 L717.3,453.7 L717.8,453.1 L718.3,459.7 L718.8,463.1 L719.3,457.9 L719.8,455.4 L720.3,448.7 L720.8,449.8 L721.3,446.8 L721.8,444.2 L722.3,446.7 L722.8,446.9 L723.3,453.1 L723.8,453.9 L724.3,455.6 L724.8,454.5 L725.3,456.5 L725.8,453.9 L726.3,456.2 L726.8,451.7 L727.3,451.1 L727.8,450.3 L728.3,449.7 L728.8,450.5 L729.3,444.3 L729.8,445.5 L730.3,444.2 L730.8,447.5 L731.3,449.4 L731.8,450.9 L732.3,454.8 L732.8,456.4 L733.3,458.1 L733.8,462.1 L734.3,461.1 L734.8,465.9 L735.3,463.1 L735.8,467.9 L736.3,464.7 L736.8,469.6 L737.3,465.4 L737.8,465.5 L738.3,464.7 L738.8,466.5 L739.3,462.8 L739.8,461.8 L740.3,462.5 L740.8,458.1 L741.3,460.5 L741.8,459.8 L742.3,459.3 L742.8,463.8 L743.3,461.8 L743.8,462.2 L744.3,464.9 L744.8,466.4 L745.3,462.8 L745.8,461.8 L746.3,465.0 L746.8,461.5 L747.3,461.2 L747.8,460.0 L748.3,460.9 L748.8,458.2 L749.3,458.9 L749.8,456.9 L750.3,454.1 L750.8,455.5 L751.3,457.0 L751.8,455.3 L752.3,454.5 L752.8,452.7 L753.3,455.7 L753.8,454.2 L754.3,454.9 L754.8,456.2 L755.3,459.3 L755.8,461.8 L756.3,459.8 L756.8,458.8 L757.3,452.0 L757.8,448.0 L758.3,444.1 L758.8,441.3 L759.3,437.4 L759.8,436.2 L760.3,436.7 L760.8,435.3 L761.3,433.9 L761.8,432.5 L762.3,431.4 L762.8,428.6 L763.3,427.5 L763.8,426.3 L764.3,427.5 L764.8,430.8 L765.3,431.8 L765.8,430.2 L766.3,434.8 L766.8,434.0 L767.3,434.7 L767.8,433.0 L768.3,435.2 L768.8,430.5 L769.3,429.8 L769.8,429.7 L770.3,428.6 L770.8,427.5 L771.3,429.4 L771.8,425.4 L772.3,429.3 L772.8,429.2 L773.3,431.9 L773.8,432.2 L774.3,433.8 L774.8,435.0 L775.3,435.1 L775.8,432.7 L776.3,434.9 L776.8,436.3 L777.3,436.6 L777.8,437.6 L778.3,435.7 L778.8,434.2 L779.3,437.7 L779.8,436.1 L780.3,438.4 L780.8,436.4 L781.3,438.5 L781.8,440.5 L782.3,438.6 L782.8,439.8 L783.3,439.2 L783.8,442.5 L784.3,442.1 L784.8,441.6 L785.3,441.2 L785.8,443.3 L786.3,440.2 L786.8,442.3 L787.3,439.7 L787.8,442.1 L788.3,441.1 L788.8,441.1 L789.3,445.9 L789.8,444.0 L790.3,448.0 L790.8,447.5 L791.3,448.7 L791.8,450.0 L792.3,452.9 L792.8,451.0 L793.3,455.8 L793.8,454.4 L794.3,454.9 L794.8,460.0 L795.3,457.2 L795.8,459.8 L796.3,459.8 L796.8,455.9 L797.3,456.3 L797.8,454.5 L798.3,455.5 L798.8,453.9 L799.3,457.0 L799.8,458.4 L800.3,454.2 L800.8,456.6 L801.3,454.9 L801.8,450.5 L802.3,451.6 L802.8,449.9 L803.3,444.7 L803.8,445.8 L804.3,446.1 L804.8,445.0 L805.3,442.9 L805.8,445.1 L806.3,446.7 L806.8,446.9 L807.3,447.9 L807.8,447.6 L808.3,447.9 L808.8,449.9 L809.3,451.1 L809.8,452.4 L810.3,454.7 L810.8,451.7 L811.3,452.2 L811.8,453.8 L812.3,452.4 L812.8,448.2 L813.3,449.4 L813.8,445.7 L814.3,448.9 L814.8,445.4 L815.3,447.4 L815.8,447.3 L816.3,447.9 L816.8,447.1 L817.3,448.3 L817.8,448.4 L818.3,452.4 L818.8,454.1 L819.3,457.3 L819.8,459.6 L820.3,460.4 L820.8,461.9 L821.3,459.7 L821.8,459.4 L822.3,459.4 L822.8,458.8 L823.3,458.3 L823.8,457.6 L824.3,459.4 L824.8,458.6 L825.3,460.9 L825.8,462.3 L826.3,462.6 L826.8,463.2 L827.3,462.7 L827.8,464.0 L828.3,466.7 L828.8,470.3 L829.3,468.0 L829.8,467.5 L830.3,470.7 L830.8,467.3 L831.3,465.4 L831.8,466.6 L832.3,466.6 L832.8,464.9 L833.3,462.6 L833.8,463.4 L834.3,460.7 L834.8,462.7 L835.3,462.0 L835.8,456.7 L836.3,454.3 L836.8,450.9 L837.3,445.6 L837.8,438.9 L838.3,438.8 L838.8,440.8 L839.3,439.3 L839.8,442.9 L840.3,441.8 L840.8,441.2 L841.3,443.4 L841.8,441.3 L842.3,443.0 L842.8,443.3 L843.3,442.1 L843.8,445.5 L844.3,445.6 L844.8,444.0 L845.3,445.4 L845.8,445.4 L846.3,448.5 L846.8,447.9 L847.3,449.4 L847.8,449.0 L848.3,449.5 L848.8,447.9 L849.3,450.5 L849.8,448.7 L850.3,451.2 L850.8,451.0 L851.3,450.4 L851.8,449.2 L852.3,451.1 L852.8,451.3 L853.3,451.7 L853.8,449.2 L854.3,450.1 L854.8,451.5 L855.3,452.6 L855.8,450.0 L856.3,451.7 L856.8,451.1 L857.3,446.4 L857.8,448.0 L858.3,445.6 L858.8,443.6 L859.3,443.4 L859.8,443.4 L860.3,441.4 L860.8,443.7 L861.3,442.2 L861.8,441.3 L862.3,442.9 L862.8,442.8 L863.3,440.0 L863.8,438.6 L864.3,438.8 L864.8,437.1 L865.3,438.1 L865.8,434.6 L866.3,433.0 L866.8,431.7 L867.3,431.8 L867.8,431.0 L868.3,433.8 L868.8,432.3 L869.3,431.4 L869.8,432.4 L870.3,430.6 L870.8,430.4 L871.3,428.3 L871.8,428.9 L872.3,430.6 L872.8,431.9 L873.3,430.0 L873.8,431.1 L874.3,430.8 L874.8,431.2 L875.3,432.5 L875.8,434.1 L876.3,433.5 L876.8,431.1 L877.3,428.1 L877.8,428.4 L878.3,429.2 L878.8,429.5 L879.3,425.6 L879.8,427.6 L880.3,428.3 L880.8,425.6 L881.3,429.7 L881.8,429.3 L882.3,431.2 L882.8,431.3 L883.3,432.6 L883.8,434.7 L884.3,436.0 L884.8,436.4 L885.3,436.9 L885.8,439.9 L886.3,437.4 L886.8,438.3 L887.3,437.7 L887.8,438.9 L888.3,440.2 L888.8,439.0 L889.3,440.3 L889.8,441.5 L890.3,440.9 L890.8,442.8 L891.3,442.2 L891.8,441.8 L892.3,444.2 L892.8,444.2 L893.3,444.8 L893.8,444.6 L894.3,449.0 L894.8,446.7 L895.3,448.5 L895.8,450.4 L896.3,453.4 L896.8,452.5 L897.3,453.4 L897.8,457.4 L898.3,460.1 L898.8,459.7 L899.3,463.6 L899.8,462.5 L900.3,466.4 L900.8,464.6 L901.3,467.4 L901.8,468.2 L902.3,464.8 L902.8,466.1 L903.3,464.0 L903.8,461.9 L904.3,459.8 L904.8,461.4 L905.3,460.0 L905.8,460.4 L906.3,458.7 L906.8,457.7 L907.3,457.8 L907.8,459.8 L908.3,458.4 L908.8,459.9 L909.3,462.9 L909.8,463.3 L910.3,465.9 L910.8,467.4 L911.3,470.7 L911.8,470.9 L912.3,475.0 L912.8,482.8 L913.3,483.7 L913.8,490.2 L914.3,489.7 L914.8,488.1 L915.3,489.5 L915.8,489.1 L916.3,487.5 L916.8,486.4 L917.3,485.1 L917.8,488.1 L918.3,489.1 L918.8,486.5 L919.3,487.8 L919.8,490.4 L920.3,492.1 L920.8,493.5 L921.3,494.3 L921.8,495.0 L922.3,494.0 L922.8,490.6 L923.3,492.1 L923.8,492.4 L924.3,489.9 L924.8,488.9 L925.3,489.0 L925.8,488.9 L926.3,485.8 L926.8,488.5 L927.3,487.7 L927.8,484.8 L928.3,484.2 L928.8,483.2 L929.3,483.6 L929.8,485.6 L930.3,482.2 L930.8,484.1 L931.3,479.8 L931.8,479.3 L932.3,478.8 L932.8,475.4 L933.3,473.4 L933.8,474.4 L934.3,471.1 L934.8,471.1 L935.3,467.3 L935.8,466.2 L936.3,467.9 L936.8,465.3 L937.3,461.8 L937.8,462.1 L938.3,460.9 L938.8,461.0 L939.3,464.2 L939.8,462.7 L940.3,463.9 L940.8,463.9 L941.3,464.8 L941.8,467.2 L942.3,466.7 L942.8,468.3 L943.3,470.3 L943.8,470.5 L944.3,471.6 L944.8,473.0 L945.3,476.6 L945.8,473.1 L946.3,472.4 L946.8,472.7 L947.3,471.7 L947.8,470.0 L948.3,469.9 L948.8,466.9 L949.3,465.2 L949.8,467.8 L950.3,467.1 L950.8,469.3 L951.3,466.4 L951.8,468.9 L952.3,465.6 L952.8,467.8 L953.3,466.2 L953.8,463.5 L954.3,465.6 L954.8,463.9 L955.3,460.2 L955.8,462.0 L956.3,462.4 L956.8,460.0 L957.3,455.9 L957.8,454.5 L958.3,449.9 L958.8,447.8 L959.3,445.2 L959.8,440.1 L960.3,439.0 L960.8,435.0 L961.3,433.4 L961.8,429.7 L962.3,430.1 L962.8,424.8 L963.3,424.0 L963.8,421.7 L964.3,416.2 L964.8,417.9 L965.3,418.9 L965.8,418.6 L966.3,425.2 L966.8,426.8 L967.3,428.6 L967.8,428.0 L968.3,423.9 L968.8,422.3 L969.3,416.7 L969.8,414.0 L970.3,410.4 L970.8,407.1 L971.3,408.5 L971.8,404.1 L972.3,402.1 L972.8,399.3 L973.3,398.2 L973.8,396.9 L974.3,402.8 L974.8,403.6 L975.3,404.1 L975.8,406.7 L976.3,408.7 L976.8,406.8 L977.3,405.8 L977.8,406.3 L978.3,405.6 L978.8,407.2 L979.3,407.0 L979.8,406.2 L980.3,404.7 L980.8,403.2 L981.3,402.4 L981.8,407.7 L982.3,409.5 L982.8,409.9 L983.3,413.5 L983.8,416.5 L984.3,412.6 L984.8,413.6 L985.3,415.0 L985.8,410.0 L986.3,408.7 L986.8,412.4 L987.3,411.0 L987.8,405.3 L988.3,407.2 L988.8,406.5 L989.3,405.8 L989.8,404.1 L990.3,402.7 L990.8,401.8 L991.3,400.7 L991.8,396.5 L992.3,395.5 L992.8,394.6 L993.3,396.8 L993.8,392.7 L994.3,389.4 L994.8,387.4 L995.3,380.2 L995.8,378.4 L996.3,380.8 L996.8,386.3 L997.3,387.0 L997.8,385.4 L998.3,389.0 L998.8,393.4 L999.3,401.6 L999.8,402.6 L1000.3,405.2 L1000.8,405.1 L1001.3,404.2 L1001.8,400.1 L1002.3,396.9 L1002.8,396.7 L1003.3,397.8 L1003.8,396.9 L1004.3,392.8 L1004.8,392.3 L1005.3,393.0 L1005.8,389.7 L1006.3,388.0 L1006.8,387.3 L1007.3,389.1 L1007.8,388.2 L1008.3,391.9 L1008.8,391.9 L1009.3,394.0 L1009.8,393.5 L1010.3,392.7 L1010.8,392.1 L1011.3,393.4 L1011.8,398.1 L1012.3,397.7 L1012.8,395.6 L1013.3,399.9 L1013.8,403.5 L1014.3,405.7 L1014.8,407.9 L1015.3,409.5 L1015.8,408.2 L1016.3,407.3 L1016.8,401.9 L1017.3,403.3 L1017.8,400.5 L1018.3,396.8 L1018.8,395.0 L1019.3,396.1 L1019.8,391.6 L1020.3,391.2 L1020.8,390.3 L1021.3,391.5 L1021.8,387.0 L1022.3,385.2 L1022.8,384.7 L1023.3,387.2 L1023.8,382.7 L1024.3,386.9 L1024.8,387.9 L1025.3,388.4 L1025.8,389.5 L1026.3,391.9 L1026.8,390.4 L1027.3,391.7 L1027.8,392.0 L1028.3,390.0 L1028.8,391.9 L1029.3,390.2 L1029.8,388.4 L1030.3,388.3 L1030.8,389.1 L1031.3,390.9 L1031.8,391.6 L1032.3,390.1 L1032.8,387.8 L1033.3,391.5 L1033.8,393.7 L1034.3,389.0 L1034.8,391.1 L1035.3,389.7 L1035.8,393.6 L1036.3,391.5 L1036.8,397.3 L1037.3,394.9 L1037.8,396.9 L1038.3,395.9 L1038.8,396.7 L1039.3,395.3 L1039.8,401.0 L1040.3,397.9 L1040.8,398.3 L1041.3,399.4 L1041.8,398.9 L1042.3,399.4 L1042.8,399.0 L1043.3,402.9 L1043.8,402.0 L1044.3,398.2 L1044.8,401.3 L1045.3,396.3 L1045.8,399.3 L1046.3,401.1" fill="none" stroke="#000" stroke-opacity="0.35" stroke-width="1.5"/>
<path d="M63.8,224.1 L64.3,231.6 L64.8,229.8 L65.3,233.6 L65.8,237.1 L66.3,234.5 L66.8,235.5 L67.3,234.3 L67.8,238.7 L68.3,243.5 L68.8,247.7 L69.3,247.3 L69.8,242.0 L70.3,237.1 L70.8,237.1 L71.3,240.6 L71.8,232.4 L72.3,230.0 L72.8,229.8 L73.3,215.6 L73.8,214.6 L74.3,211.5 L74.8,199.0 L75.3,203.2 L75.8,207.8 L76.3,202.3 L76.8,207.1 L77.3,210.5 L77.8,211.2 L78.3,209.4 L78.8,207.1 L79.3,209.6 L79.8,208.6 L80.3,209.5 L80.8,208.5 L81.3,212.1 L81.8,211.0 L82.3,206.5 L82.8,208.2 L83.3,205.3 L83.8,206.4 L84.3,206.5 L84.8,210.2 L85.3,208.7 L85.8,210.4 L86.3,213.2 L86.8,211.2 L87.3,212.5 L87.8,203.2 L88.3,205.1 L88.8,199.4 L89.3,196.2 L89.8,194.8 L90.3,188.5 L90.8,182.2 L91.3,173.3 L91.8,168.7 L92.3,169.4 L92.8,163.3 L93.3,163.5 L93.8,164.5 L94.3,161.6 L94.8,155.7 L95.3,158.4 L95.8,161.4 L96.3,158.9 L96.8,165.7 L97.3,170.0 L97.8,173.6 L98.3,175.2 L98.8,183.0 L99.3,180.3 L99.8,185.1 L100.3,188.9 L100.8,193.6 L101.3,193.5 L101.8,192.6 L102.3,196.4 L102.8,198.3 L103.3,200.3 L103.8,201.3 L104.3,205.6 L104.8,208.1 L105.3,213.1 L105.8,215.5 L106.3,213.2 L106.8,212.8 L107.3,214.9 L107.8,215.4 L108.3,213.1 L108.8,213.7 L109.3,213.8 L109.8,205.3 L110.3,211.0 L110.8,204.9 L111.3,205.3 L111.8,206.8 L112.3,207.5 L112.8,204.1 L113.3,210.0 L113.8,206.7 L114.3,210.7 L114.8,216.1 L115.3,217.0 L115.8,222.5 L116.3,228.0 L116.8,233.1 L117.3,234.0 L117.8,229.2 L118.3,232.7 L118.8,233.2 L119.3,230.0 L119.8,234.1 L120.3,234.8 L120.8,236.7 L121.3,238.1 L121.8,231.9 L122.3,233.4 L122.8,237.5 L123.3,233.8 L123.8,235.2 L124.3,238.6 L124.8,236.0 L125.3,241.9 L125.8,243.4 L126.3,239.0 L126.8,245.2 L127.3,249.6 L127.8,253.2 L128.3,249.8 L128.8,251.2 L129.3,259.0 L129.8,261.5 L130.3,258.0 L130.8,262.2 L131.3,268.7 L131.8,274.0 L132.3,273.8 L132.8,282.9 L133.3,289.3 L133.8,292.4 L134.3,294.5 L134.8,298.7 L135.3,304.3 L135.8,312.2 L136.3,303.7 L136.8,301.0 L137.3,301.4 L137.8,296.7 L138.3,294.9 L138.8,291.5 L139.3,293.1 L139.8,292.1 L140.3,291.7 L140.8,291.2 L141.3,295.6 L141.8,300.5 L142.3,306.1 L142.8,309.3 L143.3,304.5 L143.8,303.7 L144.3,309.4 L144.8,309.5 L145.3,305.1 L145.8,306.8 L146.3,306.8 L146.8,304.0 L147.3,305.3 L147.8,298.0 L148.3,301.3 L148.8,302.8 L149.3,303.0 L149.8,310.5 L150.3,305.1 L150.8,311.5 L151.3,308.2 L151.8,311.9 L152.3,313.7 L152.8,313.3 L153.3,316.4 L153.8,316.9 L154.3,314.8 L154.8,317.5 L155.3,312.6 L155.8,312.3 L156.3,313.1 L156.8,312.8 L157.3,311.0 L157.8,316.0 L158.3,311.5 L158.8,302.1 L159.3,300.4 L159.8,295.5 L160.3,293.4 L160.8,288.3 L161.3,286.2 L161.8,285.7 L162.3,279.9 L162.8,280.2 L163.3,279.6 L163.8,280.5 L164.3,275.0 L164.8,279.9 L165.3,281.2 L165.8,278.3 L166.3,275.4 L166.8,277.7 L167.3,274.7 L167.8,271.0 L168.3,263.9 L168.8,266.9 L169.3,263.4 L169.8,256.1 L170.3,254.1 L170.8,246.7 L171.3,256.4 L171.8,257.6 L172.3,261.3 L172.8,267.3 L173.3,265.3 L173.8,268.5 L174.3,267.5 L174.8,269.7 L175.3,266.0 L175.8,272.2 L176.3,271.7 L176.8,274.4 L177.3,274.6 L177.8,281.7 L178.3,285.5 L178.8,286.9 L179.3,286.8 L179.8,293.6 L180.3,287.4 L180.8,291.0 L181.3,286.6 L181.8,282.0 L182.3,281.1 L182.8,279.4 L183.3,274.2 L183.8,276.0 L184.3,271.2 L184.8,273.1 L185.3,272.5 L185.8,266.9 L186.3,270.7 L186.8,268.0 L187.3,271.0 L187.8,269.3 L188.3,268.4 L188.8,271.4 L189.3,265.1 L189.8,268.5 L190.3,267.6 L190.8,266.3 L191.3,272.5 L191.8,272.1 L192.3,275.6 L192.8,274.4 L193.3,273.5 L193.8,279.2 L194.3,273.4 L194.8,273.5 L195.3,278.2 L195.8,275.3 L196.3,275.0 L196.8,278.5 L197.3,274.2 L197.8,278.0 L198.3,276.0 L198.8,273.5 L199.3,271.4 L199.8,272.5 L200.3,277.5 L200.8,273.2 L201.3,271.3 L201.8,272.1 L202.3,276.2 L202.8,270.7 L203.3,274.9 L203.8,270.1 L204.3,276.6 L204.8,274.1 L205.3,272.3 L205.8,280.3 L206.3,278.0 L206.8,282.4 L207.3,282.6 L207.8,281.3 L208.3,283.1 L208.8,285.1 L209.3,286.5 L209.8,287.1 L210.3,288.3 L210.8,295.9 L211.3,291.2 L211.8,295.4 L212.3,293.9 L212.8,295.8 L213.3,300.8 L213.8,303.2 L214.3,300.8 L214.8,298.6 L215.3,306.5 L215.8,300.8 L216.3,304.2 L216.8,306.2 L217.3,309.6 L217.8,310.1 L218.3,307.5 L218.8,304.8 L219.3,306.7 L219.8,305.7 L220.3,304.6 L220.8,302.3 L221.3,296.9 L221.8,297.1 L222.3,297.2 L222.8,296.1 L223.3,297.2 L223.8,291.9 L224.3,293.7 L224.8,290.6 L225.3,292.3 L225.8,287.2 L226.3,288.0 L226.8,284.4 L227.3,284.0 L227.8,287.9 L228.3,282.6 L228.8,285.4 L229.3,281.8 L229.8,277.4 L230.3,283.3 L230.8,278.9 L231.3,285.4 L231.8,281.0 L232.3,286.6 L232.8,284.4 L233.3,285.5 L233.8,289.5 L234.3,285.0 L234.8,284.8 L235.3,284.0 L235.8,278.4 L236.3,281.9 L236.8,281.1 L237.3,274.6 L237.8,275.9 L238.3,275.9 L238.8,280.7 L239.3,277.7 L239.8,282.7 L240.3,286.4 L240.8,287.8 L241.3,285.3 L241.8,292.0 L242.3,289.7 L242.8,295.3 L243.3,295.0 L243.8,294.5 L244.3,299.2 L244.8,300.6 L245.3,299.3 L245.8,300.6 L246.3,295.4 L246.8,294.8 L247.3,293.7 L247.8,295.8 L248.3,294.3 L248.8,293.6 L249.3,294.0 L249.8,292.5 L250.3,290.4 L250.8,293.3 L251.3,291.7 L251.8,292.6 L252.3,295.5 L252.8,290.4 L253.3,293.1 L253.8,292.9 L254.3,290.3 L254.8,291.3 L255.3,294.5 L255.8,290.5 L256.3,294.0 L256.8,295.9 L257.3,293.9 L257.8,299.1 L258.3,297.9 L258.8,298.1 L259.3,300.6 L259.8,299.9 L260.3,302.8 L260.8,301.1 L261.3,306.1 L261.8,304.4 L262.3,303.2 L262.8,305.1 L263.3,308.7 L263.8,308.8 L264.3,307.4 L264.8,307.2 L265.3,308.0 L265.8,312.5 L266.3,307.6 L266.8,313.3 L267.3,313.7 L267.8,310.3 L268.3,310.7 L268.8,311.7 L269.3,312.8 L269.8,313.3 L270.3,313.2 L270.8,308.2 L271.3,307.3 L271.8,308.7 L272.3,308.7 L272.8,309.0 L273.3,305.6 L273.8,309.1 L274.3,311.4 L274.8,312.0 L275.3,312.8 L275.8,313.3 L276.3,314.1 L276.8,309.0 L277.3,315.0 L277.8,311.6 L278.3,312.5 L278.8,314.0 L279.3,317.7 L279.8,316.1 L280.3,315.9 L280.8,317.4 L281.3,322.2 L281.8,323.2 L282.3,320.5 L282.8,322.7 L283.3,324.0 L283.8,323.6 L284.3,324.7 L284.8,321.6 L285.3,322.8 L285.8,324.0 L286.3,322.5 L286.8,316.9 L287.3,318.1 L287.8,320.0 L288.3,322.2 L288.8,321.3 L289.3,321.2 L289.8,322.6 L290.3,322.7 L290.8,327.8 L291.3,328.1 L291.8,327.7 L292.3,330.8 L292.8,331.0 L293.3,332.4 L293.8,332.7 L294.3,334.8 L294.8,339.1 L295.3,339.0 L295.8,340.4 L296.3,336.8 L296.8,339.8 L297.3,339.6 L297.8,338.6 L298.3,341.2 L298.8,339.9 L299.3,341.5 L299.8,345.6 L300.3,345.7 L300.8,346.6 L301.3,344.3 L301.8,346.2 L302.3,346.7 L302.8,348.5 L303.3,349.9 L303.8,356.4 L304.3,357.4 L304.8,354.6 L305.3,356.3 L305.8,361.9 L306.3,360.9 L306.8,361.1 L307.3,362.1 L307.8,361.4 L308.3,361.4 L308.8,360.5 L309.3,357.5 L309.8,357.5 L310.3,351.5 L310.8,352.6 L311.3,354.5 L311.8,349.0 L312.3,350.7 L312.8,351.2 L313.3,349.1 L313.8,352.5 L314.3,349.4 L314.8,349.0 L315.3,351.2 L315.8,345.6 L316.3,347.5 L316.8,340.1 L317.3,337.2 L317.8,333.6 L318.3,329.2 L318.8,322.3 L319.3,320.8 L319.8,317.9 L320.3,321.0 L320.8,320.2 L321.3,317.7 L321.8,319.3 L322.3,318.4 L322.8,315.0 L323.3,313.0 L323.8,315.4 L324.3,313.2 L324.8,310.9 L325.3,316.1 L325.8,315.5 L326.3,312.5 L326.8,312.4 L327.3,312.2 L327.8,313.2 L328.3,310.0 L328.8,310.2 L329.3,307.6 L329.8,307.2 L330.3,308.4 L330.8,306.1 L331.3,304.2 L331.8,305.4 L332.3,306.2 L332.8,302.0 L333.3,305.0 L333.8,303.7 L334.3,304.1 L334.8,306.1 L335.3,302.0 L335.8,303.3 L336.3,308.3 L336.8,308.9 L337.3,304.8 L337.8,309.5 L338.3,306.1 L338.8,307.9 L339.3,309.4 L339.8,312.1 L340.3,314.3 L340.8,319.0 L341.3,317.9 L341.8,317.8 L342.3,320.3 L342.8,320.4 L343.3,322.4 L343.8,326.6 L344.3,329.9 L344.8,331.1 L345.3,334.7 L345.8,335.8 L346.3,341.8 L346.8,343.1 L347.3,341.3 L347.8,342.8 L348.3,339.8 L348.8,339.0 L349.3,336.8 L349.8,339.3 L350.3,336.3 L350.8,340.0 L351.3,338.3 L351.8,338.3 L352.3,343.0 L352.8,344.6 L353.3,347.0 L353.8,344.1 L354.3,349.4 L354.8,351.3 L355.3,349.5 L355.8,351.8 L356.3,353.9 L356.8,353.0 L357.3,357.8 L357.8,358.0 L358.3,360.1 L358.8,358.9 L359.3,360.5 L359.8,359.9 L360.3,358.5 L360.8,358.8 L361.3,357.7 L361.8,350.6 L362.3,347.6 L362.8,345.3 L363.3,344.9 L363.8,344.5 L364.3,338.9 L364.8,337.9 L365.3,335.7 L365.8,335.1 L366.3,330.5 L366.8,329.0 L367.3,331.3 L367.8,330.0 L368.3,329.1 L368.8,331.3 L369.3,330.4 L369.8,326.5 L370.3,328.6 L370.8,329.5 L371.3,330.2 L371.8,325.2 L372.3,330.1 L372.8,326.1 L373.3,330.0 L373.8,329.9 L374.3,332.2 L374.8,330.7 L375.3,327.9 L375.8,331.6 L376.3,330.1 L376.8,334.2 L377.3,330.8 L377.8,333.6 L378.3,336.8 L378.8,335.0 L379.3,338.9 L379.8,340.3 L380.3,341.7 L380.8,343.6 L381.3,341.3 L381.8,340.1 L382.3,339.8 L382.8,339.5 L383.3,336.6 L383.8,339.3 L384.3,334.7 L384.8,333.6 L385.3,337.6 L385.8,336.0 L386.3,332.0 L386.8,331.6 L387.3,333.4 L387.8,331.3 L388.3,328.4 L388.8,328.6 L389.3,331.4 L389.8,327.2 L390.3,334.0 L390.8,332.8 L391.3,331.9 L391.8,336.5 L392.3,333.7 L392.8,336.8 L393.3,338.9 L393.8,338.3 L394.3,343.1 L394.8,343.3 L395.3,341.0 L395.8,341.6 L396.3,341.6 L396.8,345.0 L397.3,343.3 L397.8,345.8 L398.3,347.9 L398.8,348.7 L399.3,344.9 L399.8,346.6 L400.3,348.0 L400.8,348.6 L401.3,350.0 L401.8,351.4 L402.3,354.2 L402.8,352.9 L403.3,354.3 L403.8,355.7 L404.3,355.5 L404.8,359.4 L405.3,358.7 L405.8,362.2 L406.3,361.4 L406.8,357.9 L407.3,357.7 L407.8,360.4 L408.3,359.0 L408.8,355.7 L409.3,358.8 L409.8,357.3 L410.3,359.2 L410.8,358.7 L411.3,359.5 L411.8,358.0 L412.3,359.4 L412.8,356.1 L413.3,357.1 L413.8,356.2 L414.3,361.3 L414.8,358.1 L415.3,360.9 L415.8,361.3 L416.3,363.7 L416.8,362.0 L417.3,361.5 L417.8,363.6 L418.3,362.9 L418.8,365.5 L419.3,368.5 L419.8,366.5 L420.3,372.8 L420.8,371.5 L421.3,371.4 L421.8,375.5 L422.3,372.6 L422.8,374.5 L423.3,377.7 L423.8,373.7 L424.3,376.2 L424.8,372.5 L425.3,374.8 L425.8,375.3 L426.3,372.7 L426.8,373.2 L427.3,374.2 L427.8,374.3 L428.3,370.4 L428.8,370.3 L429.3,372.0 L429.8,366.8 L430.3,367.8 L430.8,363.1 L431.3,363.3 L431.8,362.3 L432.3,361.7 L432.8,361.3 L433.3,360.7 L433.8,359.1 L434.3,358.6 L434.8,358.0 L435.3,353.9 L435.8,355.6 L436.3,352.9 L436.8,350.4 L437.3,348.9 L437.8,351.0 L438.3,349.3 L438.8,345.2 L439.3,346.9 L439.8,343.0 L440.3,344.2 L440.8,344.6 L441.3,344.5 L441.8,341.4 L442.3,340.3 L442.8,342.6 L443.3,343.4 L443.8,342.8 L444.3,340.0 L444.8,340.7 L445.3,340.8 L445.8,341.1 L446.3,338.4 L446.8,339.8 L447.3,336.2 L447.8,335.0 L448.3,334.8 L448.8,336.5 L449.3,336.6 L449.8,333.8 L450.3,334.4 L450.8,330.8 L451.3,333.2 L451.8,333.4 L452.3,334.6 L452.8,334.6 L453.3,338.2 L453.8,339.8 L454.3,340.9 L454.8,342.7 L455.3,341.9 L455.8,344.6 L456.3,342.2 L456.8,343.0 L457.3,339.6 L457.8,340.2 L458.3,336.7 L458.8,335.2 L459.3,340.6 L459.8,338.5 L460.3,337.9 L460.8,342.0 L461.3,344.7 L461.8,344.9 L462.3,347.1 L462.8,347.9 L463.3,346.5 L463.8,346.4 L464.3,346.2 L464.8,347.9 L465.3,350.3 L465.8,352.3 L466.3,348.0 L466.8,352.8 L467.3,353.0 L467.8,353.1 L468.3,350.7 L468.8,350.8 L469.3,355.4 L469.8,355.8 L470.3,355.8 L470.8,357.0 L471.3,356.6 L471.8,363.0 L472.3,363.5 L472.8,365.5 L473.3,366.0 L473.8,365.5 L474.3,368.1 L474.8,365.3 L475.3,367.3 L475.8,364.5 L476.3,364.8 L476.8,366.8 L477.3,364.0 L477.8,365.9 L478.3,363.9 L478.8,361.8 L479.3,361.1 L479.8,359.2 L480.3,361.7 L480.8,362.6 L481.3,358.9 L481.8,359.7 L482.3,362.6 L482.8,359.9 L483.3,363.5 L483.8,363.6 L484.3,362.6 L484.8,364.0 L485.3,361.8 L485.8,364.8 L486.3,367.1 L486.8,365.3 L487.3,365.8 L487.8,367.1 L488.3,369.2 L488.8,371.1 L489.3,375.4 L489.8,375.0 L490.3,376.9 L490.8,377.1 L491.3,378.5 L491.8,381.2 L492.3,382.2 L492.8,379.2 L493.3,378.2 L493.8,377.0 L494.3,376.3 L494.8,370.5 L495.3,368.8 L495.8,367.4 L496.3,363.1 L496.8,363.4 L497.3,364.8 L497.8,360.7 L498.3,361.3 L498.8,358.9 L499.3,360.4 L499.8,362.2 L500.3,359.6 L500.8,357.4 L501.3,358.4 L501.8,360.6 L502.3,362.5 L502.8,361.3 L503.3,362.3 L503.8,364.7 L504.3,361.9 L504.8,367.0 L505.3,366.0 L505.8,366.8 L506.3,371.2 L506.8,370.6 L507.3,372.2 L507.8,374.9 L508.3,379.1 L508.8,378.3 L509.3,382.2 L509.8,383.2 L510.3,386.9 L510.8,387.0 L511.3,392.3 L511.8,395.2 L512.3,392.4 L512.8,392.9 L513.3,393.2 L513.8,393.0 L514.3,388.7 L514.8,390.9 L515.3,390.7 L515.8,389.6 L516.3,387.4 L516.8,388.8 L517.3,388.0 L517.8,386.7 L518.3,387.7 L518.8,389.7 L519.3,390.0 L519.8,391.8 L520.3,391.8 L520.8,389.8 L521.3,391.3 L521.8,393.7 L522.3,392.6 L522.8,391.9 L523.3,396.0 L523.8,394.0 L524.3,395.0 L524.8,397.6 L525.3,398.9 L525.8,401.1 L526.3,405.4 L526.8,408.4 L527.3,408.8 L527.8,410.0 L528.3,413.9 L528.8,415.9 L529.3,415.0 L529.8,413.0 L530.3,411.3 L530.8,404.0 L531.3,398.8 L531.8,397.8 L532.3,393.6 L532.8,386.6 L533.3,382.9 L533.8,381.5 L534.3,383.8 L534.8,380.9 L535.3,382.8 L535.8,381.9 L536.3,384.9 L536.8,384.0 L537.3,384.0 L537.8,385.9 L538.3,385.8 L538.8,384.6 L539.3,386.4 L539.8,389.9 L540.3,389.8 L540.8,389.1 L541.3,390.6 L541.8,388.6 L542.3,390.7 L542.8,393.9 L543.3,391.0 L543.8,395.8 L544.3,395.8 L544.8,395.7 L545.3,395.8 L545.8,396.0 L546.3,398.7 L546.8,402.6 L547.3,400.7 L547.8,402.5 L548.3,396.3 L548.8,396.4 L549.3,393.4 L549.8,389.6 L550.3,383.8 L550.8,380.8 L551.3,377.4 L551.8,374.6 L552.3,379.5 L552.8,379.5 L553.3,382.2 L553.8,381.1 L554.3,382.7 L554.8,386.9 L555.3,388.7 L555.8,385.4 L556.3,390.2 L556.8,390.4 L557.3,388.8 L557.8,393.3 L558.3,392.5 L558.8,393.9 L559.3,396.8 L559.8,395.3 L560.3,391.3 L560.8,394.3 L561.3,390.4 L561.8,394.6 L562.3,392.8 L562.8,392.6 L563.3,389.1 L563.8,389.1 L564.3,391.1 L564.8,390.0 L565.3,392.0 L565.8,388.9 L566.3,389.2 L566.8,387.4 L567.3,389.1 L567.8,391.2 L568.3,387.2 L568.8,389.7 L569.3,386.1 L569.8,389.6 L570.3,387.6 L570.8,385.6 L571.3,390.5 L571.8,392.5 L572.3,390.0 L572.8,391.3 L573.3,393.5 L573.8,396.3 L574.3,400.0 L574.8,401.0 L575.3,399.3 L575.8,399.0 L576.3,401.1 L576.8,400.1 L577.3,397.4 L577.8,398.5 L578.3,399.6 L578.8,394.2 L579.3,394.2 L579.8,396.2 L580.3,391.6 L580.8,390.6 L581.3,389.9 L581.8,392.2 L582.3,387.9 L582.8,386.8 L583.3,388.7 L583.8,388.6 L584.3,388.3 L584.8,386.3 L585.3,389.3 L585.8,385.5 L586.3,387.4 L586.8,387.4 L587.3,388.8 L587.8,387.2 L588.3,387.3 L588.8,392.2 L589.3,388.9 L589.8,390.4 L590.3,393.0 L590.8,390.0 L591.3,389.9 L591.8,390.5 L592.3,386.8 L592.8,385.5 L593.3,387.8 L593.8,385.4 L594.3,382.8 L594.8,382.8 L595.3,384.0 L595.8,383.4 L596.3,381.0 L596.8,378.4 L597.3,380.7 L597.8,376.3 L598.3,378.2 L598.8,373.9 L599.3,377.1 L599.8,375.2 L600.3,374.5 L600.8,375.0 L601.3,377.0 L601.8,378.8 L602.3,379.5 L602.8,381.5 L603.3,379.3 L603.8,382.1 L604.3,384.8 L604.8,383.9 L605.3,387.7 L605.8,386.1 L606.3,385.7 L606.8,389.7 L607.3,388.0 L607.8,389.5 L608.3,390.5 L608.8,392.2 L609.3,387.8 L609.8,390.7 L610.3,388.2 L610.8,386.3 L611.3,385.3 L611.8,388.1 L612.3,387.1 L612.8,384.1 L613.3,383.3 L613.8,387.0 L614.3,382.1 L614.8,382.7 L615.3,385.5 L615.8,386.5 L616.3,383.7 L616.8,385.1 L617.3,383.7 L617.8,383.7 L618.3,381.7 L618.8,379.7 L619.3,378.0 L619.8,377.6 L620.3,374.6 L620.8,376.5 L621.3,373.6 L621.8,371.2 L622.3,375.5 L622.8,377.5 L623.3,376.5 L623.8,375.8 L624.3,380.7 L624.8,382.5 L625.3,384.6 L625.8,384.9 L626.3,385.2 L626.8,384.8 L627.3,385.3 L627.8,385.3 L628.3,390.5 L628.8,390.1 L629.3,389.6 L629.8,389.7 L630.3,391.6 L630.8,395.3 L631.3,393.2 L631.8,393.3 L632.3,396.1 L632.8,396.9 L633.3,399.9 L633.8,400.1 L634.3,400.6 L634.8,404.4 L635.3,404.7 L635.8,401.6 L636.3,402.4 L636.8,403.4 L637.3,401.1 L637.8,404.7 L638.3,404.4 L638.8,401.4 L639.3,404.5 L639.8,402.2 L640.3,400.0 L640.8,401.9 L641.3,401.3 L641.8,400.7 L642.3,400.9 L642.8,399.4 L643.3,395.3 L643.8,394.2 L644.3,390.8 L644.8,392.1 L645.3,391.7 L645.8,392.4 L646.3,397.4 L646.8,393.9 L647.3,395.5 L647.8,399.6 L648.3,400.0 L648.8,400.2 L649.3,403.4 L649.8,401.2 L650.3,398.5 L650.8,397.8 L651.3,393.0 L651.8,393.9 L652.3,392.9 L652.8,389.7 L653.3,392.6 L653.8,390.4 L654.3,399.7 L654.8,409.8 L655.3,416.8 L655.8,422.7 L656.3,429.4 L656.8,433.4 L657.3,430.4 L657.8,426.2 L658.3,428.0 L658.8,421.4 L659.3,422.5 L659.8,413.8 L660.3,416.4 L660.8,412.9 L661.3,408.7 L661.8,410.9 L662.3,409.7 L662.8,408.2 L663.3,406.8 L663.8,405.2 L664.3,404.3 L664.8,400.6 L665.3,402.5 L665.8,398.3 L666.3,395.7 L666.8,398.4 L667.3,394.9 L667.8,396.4 L668.3,399.0 L668.8,400.6 L669.3,398.9 L669.8,398.3 L670.3,402.6 L670.8,403.7 L671.3,405.6 L671.8,404.0 L672.3,407.5 L672.8,407.5 L673.3,407.8 L673.8,406.9 L674.3,406.2 L674.8,405.2 L675.3,406.7 L675.8,402.8 L676.3,405.1 L676.8,405.6 L677.3,405.2 L677.8,401.2 L678.3,402.0 L678.8,405.4 L679.3,404.2 L679.8,400.3 L680.3,402.0 L680.8,403.7 L681.3,403.7 L681.8,401.5 L682.3,398.8 L682.8,399.2 L683.3,397.8 L683.8,398.4 L684.3,397.5 L684.8,401.1 L685.3,400.8 L685.8,399.1 L686.3,403.3 L686.8,400.6 L687.3,402.8 L687.8,407.1 L688.3,408.5 L688.8,408.0 L689.3,414.5 L689.8,414.7 L690.3,416.5 L690.8,416.9 L691.3,420.2 L691.8,418.9 L692.3,422.1 L692.8,426.0 L693.3,427.4 L693.8,428.5 L694.3,427.3 L694.8,430.5 L695.3,436.0 L695.8,437.4 L696.3,438.3 L696.8,435.3 L697.3,433.1 L697.8,431.6 L698.3,431.3 L698.8,423.6 L699.3,419.7 L699.8,416.0 L700.3,417.7 L700.8,415.3 L701.3,417.0 L701.8,411.9 L702.3,411.4 L702.8,415.7 L703.3,411.0 L703.8,414.3 L704.3,413.8 L704.8,411.6 L705.3,412.1 L705.8,415.0 L706.3,411.0 L706.8,416.6 L707.3,411.5 L707.8,412.3 L708.3,415.2 L708.8,412.4 L709.3,418.2 L709.8,415.6 L710.3,415.0 L710.8,417.0 L711.3,420.7 L711.8,424.1 L712.3,421.0 L712.8,422.2 L713.3,422.8 L713.8,422.9 L714.3,423.0 L714.8,420.4 L715.3,426.3 L715.8,434.8 L716.3,442.1 L716.8,446.5 L717.3,453.7 L717.8,453.1 L718.3,459.7 L718.8,463.1 L719.3,457.9 L719.8,455.4 L720.3,448.7 L720.8,449.8 L721.3,446.8 L721.8,444.2 L722.3,446.7 L722.8,446.9 L723.3,453.1 L723.8,453.9 L724.3,455.6 L724.8,454.5 L725.3,456.5 L725.8,453.9 L726.3,456.2 L726.8,451.7 L727.3,451.1 L727.8,450.3 L728.3,449.7 L728.8,450.5 L729.3,444.3 L729.8,445.5 L730.3,444.2 L730.8,447.5 L731.3,449.4 L731.8,450.9 L732.3,454.8 L732.8,456.4 L733.3,458.1 L733.8,462.1 L734.3,461.1 L734.8,465.9 L735.3,463.1 L735.8,467.9 L736.3,464.7 L736.8,469.6 L737.3,465.4 L737.8,465.5 L738.3,464.7 L738.8,466.5 L739.3,462.8 L739.8,461.8 L740.3,462.5 L740.8,458.1 L741.3,460.5 L741.8,459.8 L742.3,459.3 L742.8,463.8 L743.3,461.8 L743.8,462.2 L744.3,464.9 L744.8,466.4 L745.3,462.8 L745.8,461.8 L746.3,465.0 L746.8,461.5 L747.3,461.2 L747.8,460.0 L748.3,460.9 L748.8,458.2 L749.3,458.9 L749.8,456.9 L750.3,454.1 L750.8,455.5 L751.3,457.0 L751.8,455.3 L752.3,454.5 L752.8,452.7 L753.3,455.7 L753.8,454.2 L754.3,454.9 L754.8,456.2 L755.3,459.3 L755.8,461.8 L756.3,459.8 L756.8,458.8 L757.3,452.0 L757.8,448.0 L758.3,444.1 L758.8,441.3 L759.3,437.4 L759.8,436.2 L760.3,436.7 L760.8,435.3 L761.3,433.9 L761.8,432.5 L762.3,431.4 L762.8,428.6 L763.3,427.5 L763.8,426.3 L764.3,427.5 L764.8,430.8 L765.3,431.8 L765.8,430.2 L766.3,434.8 L766.8,434.0 L767.3,434.7 L767.8,433.0 L768.3,435.2 L768.8,430.5 L769.3,429.8 L769.8,429.7 L770.3,428.6 L770.8,427.5 L771.3,429.4 L771.8,425.4 L772.3,429.3 L772.8,429.2 L773.3,431.9 L773.8,432.2 L774.3,433.8 L774.8,435.0 L775.3,435.1 L775.8,432.7 L776.3,434.9 L776.8,436.3 L777.3,436.6 L777.8,437.6 L778.3,435.7 L778.8,434.2 L779.3,437.7 L779.8,436.1 L780.3,438.4 L780.8,436.4 L781.3,438.5 L781.8,440.5 L782.3,438.6 L782.8,439.8 L783.3,439.2 L783.8,442.5 L784.3,442.1 L784.8,441.6 L785.3,441.2 L785.8,443.3 L786.3,440.2 L786.8,442.3 L787.3,439.7 L787.8,442.1 L788.3,441.1 L788.8,441.1 L789.3,445.9 L789.8,444.0 L790.3,448.0 L790.8,447.5 L791.3,448.7 L791.8,450.0 L792.3,452.9 L792.8,451.0 L793.3,455.8 L793.8,454.4 L794.3,454.9 L794.8,460.0 L795.3,457.2 L795.8,459.8 L796.3,459.8 L796.8,455.9 L797.3,456.3 L797.8,454.5 L798.3,455.5 L798.8,453.9 L799.3,457.0 L799.8,458.4 L800.3,454.2 L800.8,456.6 L801.3,454.9 L801.8,450.5 L802.3,451.6 L802.8,449.9 L803.3,444.7 L803.8,445.8 L804.3,446.1 L804.8,445.0 L805.3,442.9 L805.8,445.1 L806.3,446.7 L806.8,446.9 L807.3,447.9 L807.8,447.6 L808.3,447.9 L808.8,449.9 L809.3,451.1 L809.8,452.4 L810.3,454.7 L810.8,451.7 L811.3,452.2 L811.8,453.8 L812.3,452.4 L812.8,448.2 L813.3,449.4 L813.8,445.7 L814.3,448.9 L814.8,445.4 L815.3,447.4 L815.8,447.3 L816.3,447.9 L816.8,447.1 L817.3,448.3 L817.8,448.4 L818.3,452.4 L818.8,454.1 L819.3,457.3 L819.8,459.6 L820.3,460.4 L820.8,461.9 L821.3,459.7 L821.8,459.4 L822.3,459.4 L822.8,458.8 L823.3,458.3 L823.8,457.6 L824.3,459.4 L824.8,458.6 L825.3,460.9 L825.8,462.3 L826.3,462.6 L826.8,463.2 L827.3,462.7 L827.8,464.0 L828.3,466.7 L828.8,470.3 L829.3,468.0 L829.8,467.5 L830.3,470.7 L830.8,467.3 L831.3,465.4 L831.8,466.6 L832.3,466.6 L832.8,464.9 L833.3,462.6 L833.8,463.4 L834.3,460.7 L834.8,462.7 L835.3,462.0 L835.8,456.7 L836.3,454.3 L836.8,450.9 L837.3,445.6 L837.8,438.9 L838.3,438.8 L838.8,440.8 L839.3,439.3 L839.8,442.9 L840.3,441.8 L840.8,441.2 L841.3,443.4 L841.8,441.3 L842.3,443.0 L842.8,443.3 L843.3,442.1 L843.8,445.5 L844.3,445.6 L844.8,444.0 L845.3,445.4 L845.8,445.4 L846.3,448.5 L846.8,447.9 L847.3,449.4 L847.8,449.0 L848.3,449.5 L848.8,447.9 L849.3,450.5 L849.8,448.7 L850.3,451.2 L850.8,451.0 L851.3,450.4 L851.8,449.2 L852.3,451.1 L852.8,451.3 L853.3,451.7 L853.8,449.2 L854.3,450.1 L854.8,451.5 L855.3,452.6 L855.8,450.0 L856.3,451.7 L856.8,451.1 L857.3,446.4 L857.8,448.0 L858.3,445.6 L858.8,443.6 L859.3,443.4 L859.8,443.4 L860.3,441.4 L860.8,443.7 L861.3,442.2 L861.8,441.3 L862.3,442.9 L862.8,442.8 L863.3,440.0 L863.8,438.6 L864.3,438.8 L864.8,437.1 L865.3,438.1 L865.8,434.6 L866.3,433.0 L866.8,431.7 L867.3,431.8 L867.8,431.0 L868.3,433.8 L868.8,432.3 L869.3,431.4 L869.8,432.4 L870.3,430.6 L870.8,430.4 L871.3,428.3 L871.8,428.9 L872.3,430.6 L872.8,431.9 L873.3,430.0 L873.8,431.1 L874.3,430.8 L874.8,431.2 L875.3,432.5 L875.8,434.1 L876.3,433.5 L876.8,431.1 L877.3,428.1 L877.8,428.4 L878.3,429.2 L878.8,429.5 L879.3,425.6 L879.8,427.6 L880.3,428.3 L880.8,425.6 L881.3,429.7 L881.8,429.3 L882.3,431.2 L882.8,431.3 L883.3,432.6 L883.8,434.7 L884.3,436.0 L884.8,436.4 L885.3,436.9 L885.8,439.9 L886.3,437.4 L886.8,438.3 L887.3,437.7 L887.8,438.9 L888.3,440.2 L888.8,439.0 L889.3,440.3 L889.8,441.5 L890.3,440.9 L890.8,442.8 L891.3,442.2 L891.8,441.8 L892.3,444.2 L892.8,444.2 L893.3,444.8 L893.8,444.6 L894.3,449.0 L894.8,446.7 L895.3,448.5 L895.8,450.4 L896.3,453.4 L896.8,452.5 L897.3,453.4 L897.8,457.4 L898.3,460.1 L898.8,459.7 L899.3,463.6 L899.8,462.5 L900.3,466.4 L900.8,464.6 L901.3,467.4 L901.8,468.2 L902.3,464.8 L902.8,466.1 L903.3,464.0 L903.8,461.9 L904.3,459.8 L904.8,461.4 L905.3,460.0 L905.8,460.4 L906.3,458.7 L906.8,457.7 L907.3,457.8 L907.8,459.8 L908.3,458.4 L908.8,459.9 L909.3,462.9 L909.8,463.3 L910.3,465.9 L910.8,467.4 L911.3,470.7 L911.8,470.9 L912.3,475.0 L912.8,482.8 L913.3,483.7 L913.8,490.2 L914.3,489.7 L914.8,488.1 L915.3,489.5 L915.8,489.1 L916.3,487.5 L916.8,486.4 L917.3,485.1 L917.8,488.1 L918.3,489.1 L918.8,486.5 L919.3,487.8 L919.8,490.4 L920.3,492.1 L920.8,493.5 L921.3,494.3 L921.8,495.0 L922.3,494.0 L922.8,490.6 L923.3,492.1 L923.8,492.4 L924.3,489.9 L924.8,488.9 L925.3,489.0 L925.8,488.9 L926.3,485.8 L926.8,488.5 L927.3,487.7 L927.8,484.8 L928.3,484.2 L928.8,483.2 L929.3,483.6 L929.8,485.6 L930.3,482.2 L930.8,484.1 L931.3,479.8 L931.8,479.3 L932.3,478.8 L932.8,475.4 L933.3,473.4 L933.8,474.4 L934.3,471.1 L934.8,471.1 L935.3,467.3 L935.8,466.2 L936.3,467.9 L936.8,465.3 L937.3,461.8 L937.8,462.1 L938.3,460.9 L938.8,461.0 L939.3,464.2 L939.8,462.7 L940.3,463.9 L940.8,463.9 L941.3,464.8 L941.8,467.2 L942.3,466.7 L942.8,468.3 L943.3,470.3 L943.8,470.5 L944.3,471.6 L944.8,473.0 L945.3,476.6 L945.8,473.1 L946.3,472.4 L946.8,472.7 L947.3,471.7 L947.8,470.0 L948.3,469.9 L948.8,466.9 L949.3,465.2 L949.8,467.8 L950.3,467.1 L950.8,469.3 L951.3,466.4 L951.8,468.9 L952.3,465.6 L952.8,467.8 L953.3,466.2 L953.8,463.5 L954.3,465.6 L954.8,463.9 L955.3,460.2 L955.8,462.0 L956.3,462.4 L956.8,460.0 L957.3,455.9 L957.8,454.5 L958.3,449.9 L958.8,447.8 L959.3,445.2 L959.8,440.1 L960.3,439.0 L960.8,435.0 L961.3,433.4 L961.8,429.7 L962.3,430.1 L962.8,424.8 L963.3,424.0 L963.8,421.7 L964.3,416.2 L964.8,417.9 L965.3,418.9 L965.8,418.6 L966.3,425.2 L966.8,426.8 L967.3,428.6 L967.8,428.0 L968.3,423.9 L968.8,422.3 L969.3,416.7 L969.8,414.0 L970.3,410.4 L970.8,407.1 L971.3,408.5 L971.8,404.1 L972.3,402.1 L972.8,399.3 L973.3,398.2 L973.8,396.9 L974.3,402.8 L974.8,403.6 L975.3,404.1 L975.8,406.7 L976.3,408.7 L976.8,406.8 L977.3,405.8 L977.8,406.3 L978.3,405.6 L978.8,407.2 L979.3,407.0 L979.8,406.2 L980.3,404.7 L980.8,403.2 L981.3,402.4 L981.8,407.7 L982.3,409.5 L982.8,409.9 L983.3,413.5 L983.8,416.5 L984.3,412.6 L984.8,413.6 L985.3,415.0 L985.8,410.0 L986.3,408.7 L986.8,412.4 L987.3,411.0 L987.8,405.3 L988.3,407.2 L988.8,406.5 L989.3,405.8 L989.8,404.1 L990.3,402.7 L990.8,401.8 L991.3,400.7 L991.8,396.5 L992.3,395.5 L992.8,394.6 L993.3,396.8 L993.8,392.7 L994.3,389.4 L994.8,387.4 L995.3,380.2 L995.8,378.4 L996.3,380.8 L996.8,386.3 L997.3,387.0 L997.8,385.4 L998.3,389.0 L998.8,393.4 L999.3,401.6 L999.8,402.6 L1000.3,405.2 L1000.8,405.1 L1001.3,404.2 L1001.8,400.1 L1002.3,396.9 L1002.8,396.7 L1003.3,397.8 L1003.8,396.9 L1004.3,392.8 L1004.8,392.3 L1005.3,393.0 L1005.8,389.7 L1006.3,388.0 L1006.8,387.3 L1007.3,389.1 L1007.8,388.2 L1008.3,391.9 L1008.8,391.9 L1009.3,394.0 L1009.8,393.5 L1010.3,392.7 L1010.8,392.1 L1011.3,393.4 L1011.8,398.1 L1012.3,397.7 L1012.8,395.6 L1013.3,399.9 L1013.8,403.5 L1014.3,405.7 L1014.8,407.9 L1015.3,409.5 L1015.8,408.2 L1016.3,407.3 L1016.8,401.9 L1017.3,403.3 L1017.8,400.5 L1018.3,396.8 L1018.8,395.0 L1019.3,396.1 L1019.8,391.6 L1020.3,391.2 L1020.8,390.3 L1021.3,391.5 L1021.8,387.0 L1022.3,385.2 L1022.8,384.7 L1023.3,387.2 L1023.8,382.7 L1024.3,386.9 L1024.8,387.9 L1025.3,388.4 L1025.8,389.5 L1026.3,391.9 L1026.8,390.4 L1027.3,391.7 L1027.8,392.0 L1028.3,390.0 L1028.8,391.9 L1029.3,390.2 L1029.8,388.4 L1030.3,388.3 L1030.8,389.1 L1031.3,390.9 L1031.8,391.6 L1032.3,390.1 L1032.8,387.8 L1033.3,391.5 L1033.8,393.7 L1034.3,389.0 L1034.8,391.1 L1035.3,389.7 L1035.8,393.6 L1036.3,391.5 L1036.8,397.3 L1037.3,394.9 L1037.8,396.9 L1038.3,395.9 L1038.8,396.7 L1039.3,395.3 L1039.8,401.0 L1040.3,397.9 L1040.8,398.3 L1041.3,399.4 L1041.8,398.9 L1042.3,399.4 L1042.8,399.0 L1043.3,402.9 L1043.8,402.0 L1044.3,398.2 L1044.8,401.3 L1045.3,396.3 L1045.8,399.3 L1046.3,401.1" fill="none" stroke="#17ACEE" stroke-width="1.4" stroke-linejoin="round"/>
</g>
<!-- axes -->
<g stroke="#000" stroke-width="1.3" fill="none">
<path d="M63.8 93.1 V556.6"/>
<path d="M63.8 93.1 h5.5 M63.8 144.8 h5.5 M63.8 196.4 h5.5 M63.8 248.1 h5.5 M63.8 299.7 h5.5 M63.8 351.3 h5.5 M63.8 403 h5.5 M63.8 454.7 h5.5 M63.8 556.6 h5.5"/>
<path d="M63.8 506.3 H1046.5"/>
<path d="M109.3 506.3 V500.8 M155.1 506.3 V500.8 M200.8 506.3 V500.8 M246.6 506.3 V500.8 M292.3 506.3 V500.8 M338.1 506.3 V500.8 M383.9 506.3 V500.8 M429.6 506.3 V500.8 M475.4 506.3 V500.8 M521.1 506.3 V500.8 M566.9 506.3 V500.8 M612.7 506.3 V500.8 M658.4 506.3 V500.8 M704.2 506.3 V500.8 M749.9 506.3 V500.8 M795.7 506.3 V500.8 M841.5 506.3 V500.8 M887.2 506.3 V500.8 M933.0 506.3 V500.8 M978.7 506.3 V500.8 M1024.5 506.3 V500.8"/>
</g>
</svg>
<div class="t lg" style="left:199px">E（<span style="letter-spacing:0.9px">RIR</span>）</div>
<div class="t lg" style="left:335px">E（п）</div>
<div class="t lg" style="left:454px">TP_RRP</div>
<div class="t lg" style="left:579px">TP_IRP</div>
<div class="t lg" style="left:699px">UST 10Y</div>
<div class="t lg" style="left:829px">DKW UST 10Y</div>
<div class="t" style="left:31.5px;top:44px;font-size:15px;color:#555">(</div><div class="t" style="left:42.5px;top:44.8px;font-size:16px;transform:scale(1.18,1.08);transform-origin:0 0">%</div><div class="t" style="left:62.8px;top:44px;font-size:15px;color:#555">)</div>
<div class="t yl" style="left:18px;top:84.1px">16</div>
<div class="t yl" style="left:18px;top:135.8px">14</div>
<div class="t yl" style="left:18px;top:187.4px">12</div>
<div class="t yl" style="left:18px;top:239.1px">10</div>
<div class="t yl" style="left:18px;top:290.7px">8</div>
<div class="t yl" style="left:18px;top:342.3px">6</div>
<div class="t yl" style="left:18px;top:394.0px">4</div>
<div class="t yl" style="left:18px;top:445.7px">2</div>
<div class="t yl" style="left:18px;top:497.3px">0</div>
<div class="t yl" style="left:18px;top:547.6px">-2</div>
<div class="t xl" style="left:55.8px;top:603px">1983</div>
<div class="t xl" style="left:101.6px;top:603px">1985</div>
<div class="t xl" style="left:147.4px;top:603px">1987</div>
<div class="t xl" style="left:193.1px;top:603px">1989</div>
<div class="t xl" style="left:238.9px;top:603px">1991</div>
<div class="t xl" style="left:284.6px;top:603px">1993</div>
<div class="t xl" style="left:330.4px;top:603px">1995</div>
<div class="t xl" style="left:376.2px;top:603px">1997</div>
<div class="t xl" style="left:421.9px;top:603px">1999</div>
<div class="t xl" style="left:467.7px;top:603px">2001</div>
<div class="t xl" style="left:513.4px;top:603px">2003</div>
<div class="t xl" style="left:559.2px;top:603px">2005</div>
<div class="t xl" style="left:605.0px;top:603px">2007</div>
<div class="t xl" style="left:650.7px;top:603px">2009</div>
<div class="t xl" style="left:696.5px;top:603px">2011</div>
<div class="t xl" style="left:742.2px;top:603px">2013</div>
<div class="t xl" style="left:788.0px;top:603px">2015</div>
<div class="t xl" style="left:833.8px;top:603px">2017</div>
<div class="t xl" style="left:879.5px;top:603px">2019</div>
<div class="t xl" style="left:925.3px;top:603px">2021</div>
<div class="t xl" style="left:971.0px;top:603px">2023</div>
<div class="t xl" style="left:1016.8px;top:603px">2025</div>
<div class="t foot">资料来源：Fed，国盛证券研究所</div>
</body></html>
